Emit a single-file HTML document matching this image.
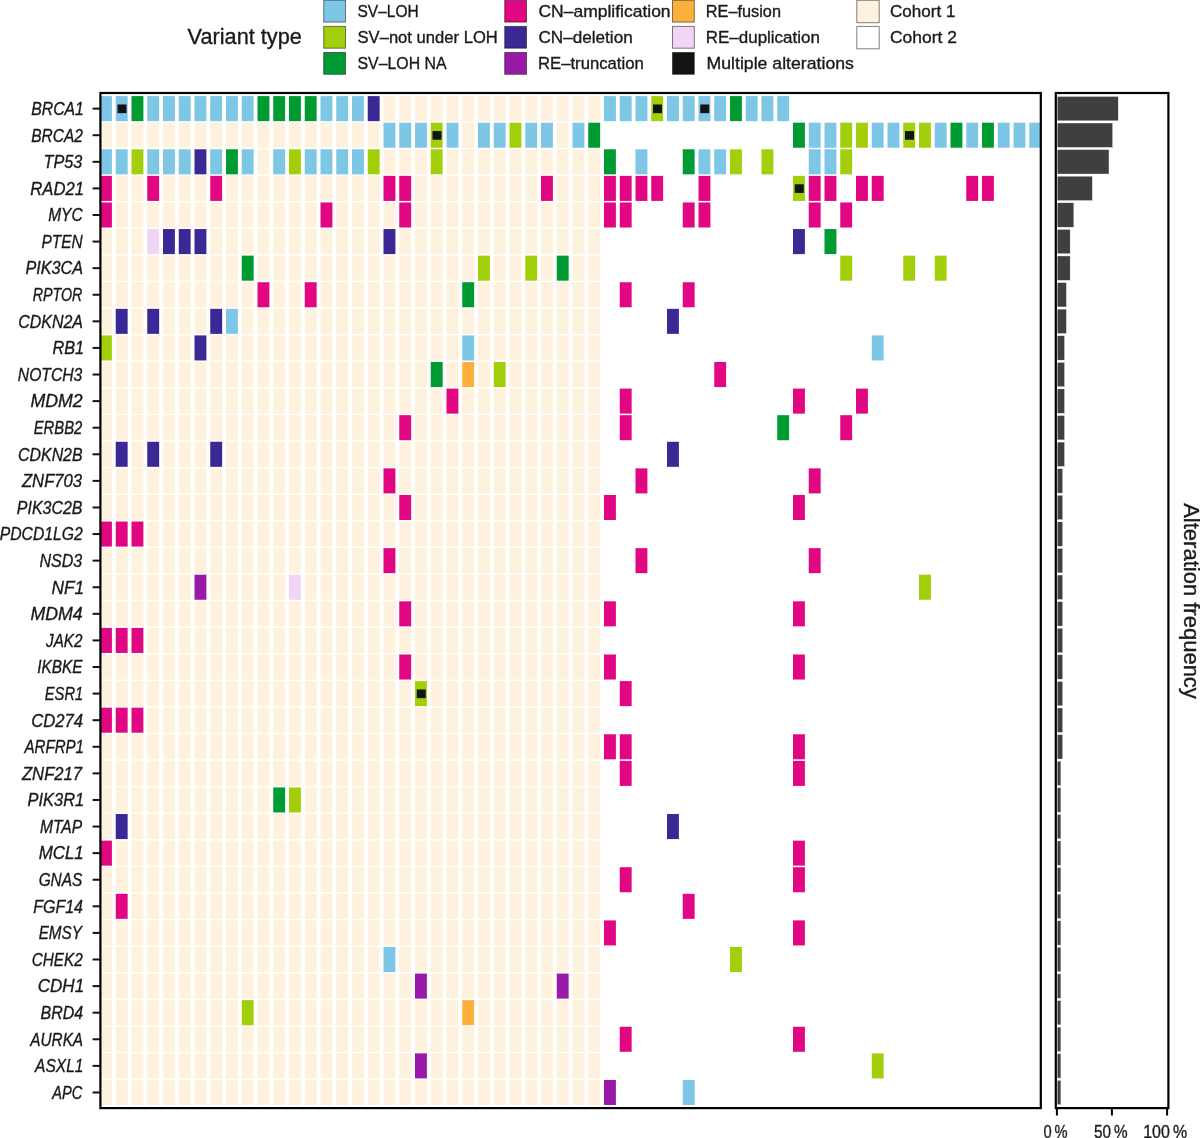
<!DOCTYPE html>
<html><head><meta charset="utf-8">
<style>
html,body{margin:0;padding:0;background:#fff;}
body{width:1200px;height:1138px;overflow:hidden;position:relative;}
svg{position:absolute;left:0;top:0;display:block;will-change:transform;}
text{font-family:"Liberation Sans",sans-serif;fill:#1a1a1a;stroke:#1a1a1a;stroke-width:0.35px;}
.gl{font-style:italic;font-size:18px;}
.lt{font-size:17px;}
.vt{font-size:22px;}
.ax{font-size:18.5px;}
.af{font-size:22px;}
.lb{stroke:rgba(0,0,0,0.5);stroke-width:1;}
.tk line{stroke:#111;stroke-width:2;}
</style></head>
<body>
<svg width="1200" height="1138" viewBox="0 0 1200 1138">
<g id="grid">
<rect x="100" y="96.1" width="11.9" height="25.05" fill="#7dc6e6"/>
<rect x="115.75" y="96.1" width="11.9" height="25.05" fill="#7dc6e6"/>
<rect x="117.5" y="104.47" width="9" height="8.7" fill="#131313"/>
<rect x="131.5" y="96.1" width="11.9" height="25.05" fill="#009a33"/>
<rect x="147.25" y="96.1" width="11.9" height="25.05" fill="#7dc6e6"/>
<rect x="163" y="96.1" width="11.9" height="25.05" fill="#7dc6e6"/>
<rect x="178.75" y="96.1" width="11.9" height="25.05" fill="#7dc6e6"/>
<rect x="194.5" y="96.1" width="11.9" height="25.05" fill="#7dc6e6"/>
<rect x="210.25" y="96.1" width="11.9" height="25.05" fill="#7dc6e6"/>
<rect x="226" y="96.1" width="11.9" height="25.05" fill="#7dc6e6"/>
<rect x="241.75" y="96.1" width="11.9" height="25.05" fill="#7dc6e6"/>
<rect x="257.5" y="96.1" width="11.9" height="25.05" fill="#009a33"/>
<rect x="273.25" y="96.1" width="11.9" height="25.05" fill="#009a33"/>
<rect x="289" y="96.1" width="11.9" height="25.05" fill="#009a33"/>
<rect x="304.75" y="96.1" width="11.9" height="25.05" fill="#009a33"/>
<rect x="320.5" y="96.1" width="11.9" height="25.05" fill="#7dc6e6"/>
<rect x="336.25" y="96.1" width="11.9" height="25.05" fill="#7dc6e6"/>
<rect x="352" y="96.1" width="11.9" height="25.05" fill="#7dc6e6"/>
<rect x="367.75" y="96.1" width="11.9" height="25.05" fill="#3b2895"/>
<rect x="383.5" y="96.1" width="11.9" height="25.05" fill="#fef1de"/>
<rect x="399.25" y="96.1" width="11.9" height="25.05" fill="#fef1de"/>
<rect x="415" y="96.1" width="11.9" height="25.05" fill="#fef1de"/>
<rect x="430.75" y="96.1" width="11.9" height="25.05" fill="#fef1de"/>
<rect x="446.5" y="96.1" width="11.9" height="25.05" fill="#fef1de"/>
<rect x="462.25" y="96.1" width="11.9" height="25.05" fill="#fef1de"/>
<rect x="478" y="96.1" width="11.9" height="25.05" fill="#fef1de"/>
<rect x="493.75" y="96.1" width="11.9" height="25.05" fill="#fef1de"/>
<rect x="509.5" y="96.1" width="11.9" height="25.05" fill="#fef1de"/>
<rect x="525.25" y="96.1" width="11.9" height="25.05" fill="#fef1de"/>
<rect x="541" y="96.1" width="11.9" height="25.05" fill="#fef1de"/>
<rect x="556.75" y="96.1" width="11.9" height="25.05" fill="#fef1de"/>
<rect x="572.5" y="96.1" width="11.9" height="25.05" fill="#fef1de"/>
<rect x="588.25" y="96.1" width="11.9" height="25.05" fill="#fef1de"/>
<rect x="604" y="96.1" width="11.9" height="25.05" fill="#7dc6e6"/>
<rect x="619.75" y="96.1" width="11.9" height="25.05" fill="#7dc6e6"/>
<rect x="635.5" y="96.1" width="11.9" height="25.05" fill="#7dc6e6"/>
<rect x="651.25" y="96.1" width="11.9" height="25.05" fill="#a3cf0a"/>
<rect x="653" y="104.47" width="9" height="8.7" fill="#131313"/>
<rect x="667" y="96.1" width="11.9" height="25.05" fill="#7dc6e6"/>
<rect x="682.75" y="96.1" width="11.9" height="25.05" fill="#7dc6e6"/>
<rect x="698.5" y="96.1" width="11.9" height="25.05" fill="#7dc6e6"/>
<rect x="700.25" y="104.47" width="9" height="8.7" fill="#131313"/>
<rect x="714.25" y="96.1" width="11.9" height="25.05" fill="#7dc6e6"/>
<rect x="730" y="96.1" width="11.9" height="25.05" fill="#009a33"/>
<rect x="745.75" y="96.1" width="11.9" height="25.05" fill="#7dc6e6"/>
<rect x="761.5" y="96.1" width="11.9" height="25.05" fill="#7dc6e6"/>
<rect x="777.25" y="96.1" width="11.9" height="25.05" fill="#7dc6e6"/>
<rect x="100" y="122.69" width="11.9" height="25.05" fill="#fef1de"/>
<rect x="115.75" y="122.69" width="11.9" height="25.05" fill="#fef1de"/>
<rect x="131.5" y="122.69" width="11.9" height="25.05" fill="#fef1de"/>
<rect x="147.25" y="122.69" width="11.9" height="25.05" fill="#fef1de"/>
<rect x="163" y="122.69" width="11.9" height="25.05" fill="#fef1de"/>
<rect x="178.75" y="122.69" width="11.9" height="25.05" fill="#fef1de"/>
<rect x="194.5" y="122.69" width="11.9" height="25.05" fill="#fef1de"/>
<rect x="210.25" y="122.69" width="11.9" height="25.05" fill="#fef1de"/>
<rect x="226" y="122.69" width="11.9" height="25.05" fill="#fef1de"/>
<rect x="241.75" y="122.69" width="11.9" height="25.05" fill="#fef1de"/>
<rect x="257.5" y="122.69" width="11.9" height="25.05" fill="#fef1de"/>
<rect x="273.25" y="122.69" width="11.9" height="25.05" fill="#fef1de"/>
<rect x="289" y="122.69" width="11.9" height="25.05" fill="#fef1de"/>
<rect x="304.75" y="122.69" width="11.9" height="25.05" fill="#fef1de"/>
<rect x="320.5" y="122.69" width="11.9" height="25.05" fill="#fef1de"/>
<rect x="336.25" y="122.69" width="11.9" height="25.05" fill="#fef1de"/>
<rect x="352" y="122.69" width="11.9" height="25.05" fill="#fef1de"/>
<rect x="367.75" y="122.69" width="11.9" height="25.05" fill="#fef1de"/>
<rect x="383.5" y="122.69" width="11.9" height="25.05" fill="#7dc6e6"/>
<rect x="399.25" y="122.69" width="11.9" height="25.05" fill="#7dc6e6"/>
<rect x="415" y="122.69" width="11.9" height="25.05" fill="#7dc6e6"/>
<rect x="430.75" y="122.69" width="11.9" height="25.05" fill="#a3cf0a"/>
<rect x="432.5" y="131.06" width="9" height="8.7" fill="#131313"/>
<rect x="446.5" y="122.69" width="11.9" height="25.05" fill="#7dc6e6"/>
<rect x="462.25" y="122.69" width="11.9" height="25.05" fill="#fef1de"/>
<rect x="478" y="122.69" width="11.9" height="25.05" fill="#7dc6e6"/>
<rect x="493.75" y="122.69" width="11.9" height="25.05" fill="#7dc6e6"/>
<rect x="509.5" y="122.69" width="11.9" height="25.05" fill="#a3cf0a"/>
<rect x="525.25" y="122.69" width="11.9" height="25.05" fill="#7dc6e6"/>
<rect x="541" y="122.69" width="11.9" height="25.05" fill="#7dc6e6"/>
<rect x="556.75" y="122.69" width="11.9" height="25.05" fill="#fef1de"/>
<rect x="572.5" y="122.69" width="11.9" height="25.05" fill="#7dc6e6"/>
<rect x="588.25" y="122.69" width="11.9" height="25.05" fill="#009a33"/>
<rect x="793" y="122.69" width="11.9" height="25.05" fill="#009a33"/>
<rect x="808.75" y="122.69" width="11.9" height="25.05" fill="#7dc6e6"/>
<rect x="824.5" y="122.69" width="11.9" height="25.05" fill="#7dc6e6"/>
<rect x="840.25" y="122.69" width="11.9" height="25.05" fill="#a3cf0a"/>
<rect x="856" y="122.69" width="11.9" height="25.05" fill="#a3cf0a"/>
<rect x="871.75" y="122.69" width="11.9" height="25.05" fill="#7dc6e6"/>
<rect x="887.5" y="122.69" width="11.9" height="25.05" fill="#7dc6e6"/>
<rect x="903.25" y="122.69" width="11.9" height="25.05" fill="#a3cf0a"/>
<rect x="905" y="131.06" width="9" height="8.7" fill="#131313"/>
<rect x="919" y="122.69" width="11.9" height="25.05" fill="#a3cf0a"/>
<rect x="934.75" y="122.69" width="11.9" height="25.05" fill="#7dc6e6"/>
<rect x="950.5" y="122.69" width="11.9" height="25.05" fill="#009a33"/>
<rect x="966.25" y="122.69" width="11.9" height="25.05" fill="#7dc6e6"/>
<rect x="982" y="122.69" width="11.9" height="25.05" fill="#009a33"/>
<rect x="997.75" y="122.69" width="11.9" height="25.05" fill="#7dc6e6"/>
<rect x="1013.5" y="122.69" width="11.9" height="25.05" fill="#7dc6e6"/>
<rect x="1029.25" y="122.69" width="11.25" height="25.05" fill="#7dc6e6"/>
<rect x="100" y="149.28" width="11.9" height="25.05" fill="#7dc6e6"/>
<rect x="115.75" y="149.28" width="11.9" height="25.05" fill="#7dc6e6"/>
<rect x="131.5" y="149.28" width="11.9" height="25.05" fill="#a3cf0a"/>
<rect x="147.25" y="149.28" width="11.9" height="25.05" fill="#7dc6e6"/>
<rect x="163" y="149.28" width="11.9" height="25.05" fill="#7dc6e6"/>
<rect x="178.75" y="149.28" width="11.9" height="25.05" fill="#7dc6e6"/>
<rect x="194.5" y="149.28" width="11.9" height="25.05" fill="#3b2895"/>
<rect x="210.25" y="149.28" width="11.9" height="25.05" fill="#7dc6e6"/>
<rect x="226" y="149.28" width="11.9" height="25.05" fill="#009a33"/>
<rect x="241.75" y="149.28" width="11.9" height="25.05" fill="#7dc6e6"/>
<rect x="257.5" y="149.28" width="11.9" height="25.05" fill="#fef1de"/>
<rect x="273.25" y="149.28" width="11.9" height="25.05" fill="#7dc6e6"/>
<rect x="289" y="149.28" width="11.9" height="25.05" fill="#a3cf0a"/>
<rect x="304.75" y="149.28" width="11.9" height="25.05" fill="#7dc6e6"/>
<rect x="320.5" y="149.28" width="11.9" height="25.05" fill="#7dc6e6"/>
<rect x="336.25" y="149.28" width="11.9" height="25.05" fill="#7dc6e6"/>
<rect x="352" y="149.28" width="11.9" height="25.05" fill="#7dc6e6"/>
<rect x="367.75" y="149.28" width="11.9" height="25.05" fill="#a3cf0a"/>
<rect x="383.5" y="149.28" width="11.9" height="25.05" fill="#fef1de"/>
<rect x="399.25" y="149.28" width="11.9" height="25.05" fill="#fef1de"/>
<rect x="415" y="149.28" width="11.9" height="25.05" fill="#fef1de"/>
<rect x="430.75" y="149.28" width="11.9" height="25.05" fill="#a3cf0a"/>
<rect x="446.5" y="149.28" width="11.9" height="25.05" fill="#fef1de"/>
<rect x="462.25" y="149.28" width="11.9" height="25.05" fill="#fef1de"/>
<rect x="478" y="149.28" width="11.9" height="25.05" fill="#fef1de"/>
<rect x="493.75" y="149.28" width="11.9" height="25.05" fill="#fef1de"/>
<rect x="509.5" y="149.28" width="11.9" height="25.05" fill="#fef1de"/>
<rect x="525.25" y="149.28" width="11.9" height="25.05" fill="#fef1de"/>
<rect x="541" y="149.28" width="11.9" height="25.05" fill="#fef1de"/>
<rect x="556.75" y="149.28" width="11.9" height="25.05" fill="#fef1de"/>
<rect x="572.5" y="149.28" width="11.9" height="25.05" fill="#fef1de"/>
<rect x="588.25" y="149.28" width="11.9" height="25.05" fill="#fef1de"/>
<rect x="604" y="149.28" width="11.9" height="25.05" fill="#009a33"/>
<rect x="635.5" y="149.28" width="11.9" height="25.05" fill="#7dc6e6"/>
<rect x="682.75" y="149.28" width="11.9" height="25.05" fill="#009a33"/>
<rect x="698.5" y="149.28" width="11.9" height="25.05" fill="#7dc6e6"/>
<rect x="714.25" y="149.28" width="11.9" height="25.05" fill="#7dc6e6"/>
<rect x="730" y="149.28" width="11.9" height="25.05" fill="#a3cf0a"/>
<rect x="761.5" y="149.28" width="11.9" height="25.05" fill="#a3cf0a"/>
<rect x="808.75" y="149.28" width="11.9" height="25.05" fill="#7dc6e6"/>
<rect x="824.5" y="149.28" width="11.9" height="25.05" fill="#7dc6e6"/>
<rect x="840.25" y="149.28" width="11.9" height="25.05" fill="#a3cf0a"/>
<rect x="100" y="175.87" width="11.9" height="25.05" fill="#e10682"/>
<rect x="115.75" y="175.87" width="11.9" height="25.05" fill="#fef1de"/>
<rect x="131.5" y="175.87" width="11.9" height="25.05" fill="#fef1de"/>
<rect x="147.25" y="175.87" width="11.9" height="25.05" fill="#e10682"/>
<rect x="163" y="175.87" width="11.9" height="25.05" fill="#fef1de"/>
<rect x="178.75" y="175.87" width="11.9" height="25.05" fill="#fef1de"/>
<rect x="194.5" y="175.87" width="11.9" height="25.05" fill="#fef1de"/>
<rect x="210.25" y="175.87" width="11.9" height="25.05" fill="#e10682"/>
<rect x="226" y="175.87" width="11.9" height="25.05" fill="#fef1de"/>
<rect x="241.75" y="175.87" width="11.9" height="25.05" fill="#fef1de"/>
<rect x="257.5" y="175.87" width="11.9" height="25.05" fill="#fef1de"/>
<rect x="273.25" y="175.87" width="11.9" height="25.05" fill="#fef1de"/>
<rect x="289" y="175.87" width="11.9" height="25.05" fill="#fef1de"/>
<rect x="304.75" y="175.87" width="11.9" height="25.05" fill="#fef1de"/>
<rect x="320.5" y="175.87" width="11.9" height="25.05" fill="#fef1de"/>
<rect x="336.25" y="175.87" width="11.9" height="25.05" fill="#fef1de"/>
<rect x="352" y="175.87" width="11.9" height="25.05" fill="#fef1de"/>
<rect x="367.75" y="175.87" width="11.9" height="25.05" fill="#fef1de"/>
<rect x="383.5" y="175.87" width="11.9" height="25.05" fill="#e10682"/>
<rect x="399.25" y="175.87" width="11.9" height="25.05" fill="#e10682"/>
<rect x="415" y="175.87" width="11.9" height="25.05" fill="#fef1de"/>
<rect x="430.75" y="175.87" width="11.9" height="25.05" fill="#fef1de"/>
<rect x="446.5" y="175.87" width="11.9" height="25.05" fill="#fef1de"/>
<rect x="462.25" y="175.87" width="11.9" height="25.05" fill="#fef1de"/>
<rect x="478" y="175.87" width="11.9" height="25.05" fill="#fef1de"/>
<rect x="493.75" y="175.87" width="11.9" height="25.05" fill="#fef1de"/>
<rect x="509.5" y="175.87" width="11.9" height="25.05" fill="#fef1de"/>
<rect x="525.25" y="175.87" width="11.9" height="25.05" fill="#fef1de"/>
<rect x="541" y="175.87" width="11.9" height="25.05" fill="#e10682"/>
<rect x="556.75" y="175.87" width="11.9" height="25.05" fill="#fef1de"/>
<rect x="572.5" y="175.87" width="11.9" height="25.05" fill="#fef1de"/>
<rect x="588.25" y="175.87" width="11.9" height="25.05" fill="#fef1de"/>
<rect x="604" y="175.87" width="11.9" height="25.05" fill="#e10682"/>
<rect x="619.75" y="175.87" width="11.9" height="25.05" fill="#e10682"/>
<rect x="635.5" y="175.87" width="11.9" height="25.05" fill="#e10682"/>
<rect x="651.25" y="175.87" width="11.9" height="25.05" fill="#e10682"/>
<rect x="698.5" y="175.87" width="11.9" height="25.05" fill="#e10682"/>
<rect x="793" y="175.87" width="11.9" height="25.05" fill="#a3cf0a"/>
<rect x="794.75" y="184.25" width="9" height="8.7" fill="#131313"/>
<rect x="808.75" y="175.87" width="11.9" height="25.05" fill="#e10682"/>
<rect x="824.5" y="175.87" width="11.9" height="25.05" fill="#e10682"/>
<rect x="856" y="175.87" width="11.9" height="25.05" fill="#e10682"/>
<rect x="871.75" y="175.87" width="11.9" height="25.05" fill="#e10682"/>
<rect x="966.25" y="175.87" width="11.9" height="25.05" fill="#e10682"/>
<rect x="982" y="175.87" width="11.9" height="25.05" fill="#e10682"/>
<rect x="100" y="202.46" width="11.9" height="25.05" fill="#e10682"/>
<rect x="115.75" y="202.46" width="11.9" height="25.05" fill="#fef1de"/>
<rect x="131.5" y="202.46" width="11.9" height="25.05" fill="#fef1de"/>
<rect x="147.25" y="202.46" width="11.9" height="25.05" fill="#fef1de"/>
<rect x="163" y="202.46" width="11.9" height="25.05" fill="#fef1de"/>
<rect x="178.75" y="202.46" width="11.9" height="25.05" fill="#fef1de"/>
<rect x="194.5" y="202.46" width="11.9" height="25.05" fill="#fef1de"/>
<rect x="210.25" y="202.46" width="11.9" height="25.05" fill="#fef1de"/>
<rect x="226" y="202.46" width="11.9" height="25.05" fill="#fef1de"/>
<rect x="241.75" y="202.46" width="11.9" height="25.05" fill="#fef1de"/>
<rect x="257.5" y="202.46" width="11.9" height="25.05" fill="#fef1de"/>
<rect x="273.25" y="202.46" width="11.9" height="25.05" fill="#fef1de"/>
<rect x="289" y="202.46" width="11.9" height="25.05" fill="#fef1de"/>
<rect x="304.75" y="202.46" width="11.9" height="25.05" fill="#fef1de"/>
<rect x="320.5" y="202.46" width="11.9" height="25.05" fill="#e10682"/>
<rect x="336.25" y="202.46" width="11.9" height="25.05" fill="#fef1de"/>
<rect x="352" y="202.46" width="11.9" height="25.05" fill="#fef1de"/>
<rect x="367.75" y="202.46" width="11.9" height="25.05" fill="#fef1de"/>
<rect x="383.5" y="202.46" width="11.9" height="25.05" fill="#fef1de"/>
<rect x="399.25" y="202.46" width="11.9" height="25.05" fill="#e10682"/>
<rect x="415" y="202.46" width="11.9" height="25.05" fill="#fef1de"/>
<rect x="430.75" y="202.46" width="11.9" height="25.05" fill="#fef1de"/>
<rect x="446.5" y="202.46" width="11.9" height="25.05" fill="#fef1de"/>
<rect x="462.25" y="202.46" width="11.9" height="25.05" fill="#fef1de"/>
<rect x="478" y="202.46" width="11.9" height="25.05" fill="#fef1de"/>
<rect x="493.75" y="202.46" width="11.9" height="25.05" fill="#fef1de"/>
<rect x="509.5" y="202.46" width="11.9" height="25.05" fill="#fef1de"/>
<rect x="525.25" y="202.46" width="11.9" height="25.05" fill="#fef1de"/>
<rect x="541" y="202.46" width="11.9" height="25.05" fill="#fef1de"/>
<rect x="556.75" y="202.46" width="11.9" height="25.05" fill="#fef1de"/>
<rect x="572.5" y="202.46" width="11.9" height="25.05" fill="#fef1de"/>
<rect x="588.25" y="202.46" width="11.9" height="25.05" fill="#fef1de"/>
<rect x="604" y="202.46" width="11.9" height="25.05" fill="#e10682"/>
<rect x="619.75" y="202.46" width="11.9" height="25.05" fill="#e10682"/>
<rect x="682.75" y="202.46" width="11.9" height="25.05" fill="#e10682"/>
<rect x="698.5" y="202.46" width="11.9" height="25.05" fill="#e10682"/>
<rect x="808.75" y="202.46" width="11.9" height="25.05" fill="#e10682"/>
<rect x="840.25" y="202.46" width="11.9" height="25.05" fill="#e10682"/>
<rect x="100" y="229.05" width="11.9" height="25.05" fill="#fef1de"/>
<rect x="115.75" y="229.05" width="11.9" height="25.05" fill="#fef1de"/>
<rect x="131.5" y="229.05" width="11.9" height="25.05" fill="#fef1de"/>
<rect x="147.25" y="229.05" width="11.9" height="25.05" fill="#f0d6f4"/>
<rect x="163" y="229.05" width="11.9" height="25.05" fill="#3b2895"/>
<rect x="178.75" y="229.05" width="11.9" height="25.05" fill="#3b2895"/>
<rect x="194.5" y="229.05" width="11.9" height="25.05" fill="#3b2895"/>
<rect x="210.25" y="229.05" width="11.9" height="25.05" fill="#fef1de"/>
<rect x="226" y="229.05" width="11.9" height="25.05" fill="#fef1de"/>
<rect x="241.75" y="229.05" width="11.9" height="25.05" fill="#fef1de"/>
<rect x="257.5" y="229.05" width="11.9" height="25.05" fill="#fef1de"/>
<rect x="273.25" y="229.05" width="11.9" height="25.05" fill="#fef1de"/>
<rect x="289" y="229.05" width="11.9" height="25.05" fill="#fef1de"/>
<rect x="304.75" y="229.05" width="11.9" height="25.05" fill="#fef1de"/>
<rect x="320.5" y="229.05" width="11.9" height="25.05" fill="#fef1de"/>
<rect x="336.25" y="229.05" width="11.9" height="25.05" fill="#fef1de"/>
<rect x="352" y="229.05" width="11.9" height="25.05" fill="#fef1de"/>
<rect x="367.75" y="229.05" width="11.9" height="25.05" fill="#fef1de"/>
<rect x="383.5" y="229.05" width="11.9" height="25.05" fill="#3b2895"/>
<rect x="399.25" y="229.05" width="11.9" height="25.05" fill="#fef1de"/>
<rect x="415" y="229.05" width="11.9" height="25.05" fill="#fef1de"/>
<rect x="430.75" y="229.05" width="11.9" height="25.05" fill="#fef1de"/>
<rect x="446.5" y="229.05" width="11.9" height="25.05" fill="#fef1de"/>
<rect x="462.25" y="229.05" width="11.9" height="25.05" fill="#fef1de"/>
<rect x="478" y="229.05" width="11.9" height="25.05" fill="#fef1de"/>
<rect x="493.75" y="229.05" width="11.9" height="25.05" fill="#fef1de"/>
<rect x="509.5" y="229.05" width="11.9" height="25.05" fill="#fef1de"/>
<rect x="525.25" y="229.05" width="11.9" height="25.05" fill="#fef1de"/>
<rect x="541" y="229.05" width="11.9" height="25.05" fill="#fef1de"/>
<rect x="556.75" y="229.05" width="11.9" height="25.05" fill="#fef1de"/>
<rect x="572.5" y="229.05" width="11.9" height="25.05" fill="#fef1de"/>
<rect x="588.25" y="229.05" width="11.9" height="25.05" fill="#fef1de"/>
<rect x="793" y="229.05" width="11.9" height="25.05" fill="#3b2895"/>
<rect x="824.5" y="229.05" width="11.9" height="25.05" fill="#009a33"/>
<rect x="100" y="255.64" width="11.9" height="25.05" fill="#fef1de"/>
<rect x="115.75" y="255.64" width="11.9" height="25.05" fill="#fef1de"/>
<rect x="131.5" y="255.64" width="11.9" height="25.05" fill="#fef1de"/>
<rect x="147.25" y="255.64" width="11.9" height="25.05" fill="#fef1de"/>
<rect x="163" y="255.64" width="11.9" height="25.05" fill="#fef1de"/>
<rect x="178.75" y="255.64" width="11.9" height="25.05" fill="#fef1de"/>
<rect x="194.5" y="255.64" width="11.9" height="25.05" fill="#fef1de"/>
<rect x="210.25" y="255.64" width="11.9" height="25.05" fill="#fef1de"/>
<rect x="226" y="255.64" width="11.9" height="25.05" fill="#fef1de"/>
<rect x="241.75" y="255.64" width="11.9" height="25.05" fill="#009a33"/>
<rect x="257.5" y="255.64" width="11.9" height="25.05" fill="#fef1de"/>
<rect x="273.25" y="255.64" width="11.9" height="25.05" fill="#fef1de"/>
<rect x="289" y="255.64" width="11.9" height="25.05" fill="#fef1de"/>
<rect x="304.75" y="255.64" width="11.9" height="25.05" fill="#fef1de"/>
<rect x="320.5" y="255.64" width="11.9" height="25.05" fill="#fef1de"/>
<rect x="336.25" y="255.64" width="11.9" height="25.05" fill="#fef1de"/>
<rect x="352" y="255.64" width="11.9" height="25.05" fill="#fef1de"/>
<rect x="367.75" y="255.64" width="11.9" height="25.05" fill="#fef1de"/>
<rect x="383.5" y="255.64" width="11.9" height="25.05" fill="#fef1de"/>
<rect x="399.25" y="255.64" width="11.9" height="25.05" fill="#fef1de"/>
<rect x="415" y="255.64" width="11.9" height="25.05" fill="#fef1de"/>
<rect x="430.75" y="255.64" width="11.9" height="25.05" fill="#fef1de"/>
<rect x="446.5" y="255.64" width="11.9" height="25.05" fill="#fef1de"/>
<rect x="462.25" y="255.64" width="11.9" height="25.05" fill="#fef1de"/>
<rect x="478" y="255.64" width="11.9" height="25.05" fill="#a3cf0a"/>
<rect x="493.75" y="255.64" width="11.9" height="25.05" fill="#fef1de"/>
<rect x="509.5" y="255.64" width="11.9" height="25.05" fill="#fef1de"/>
<rect x="525.25" y="255.64" width="11.9" height="25.05" fill="#a3cf0a"/>
<rect x="541" y="255.64" width="11.9" height="25.05" fill="#fef1de"/>
<rect x="556.75" y="255.64" width="11.9" height="25.05" fill="#009a33"/>
<rect x="572.5" y="255.64" width="11.9" height="25.05" fill="#fef1de"/>
<rect x="588.25" y="255.64" width="11.9" height="25.05" fill="#fef1de"/>
<rect x="840.25" y="255.64" width="11.9" height="25.05" fill="#a3cf0a"/>
<rect x="903.25" y="255.64" width="11.9" height="25.05" fill="#a3cf0a"/>
<rect x="934.75" y="255.64" width="11.9" height="25.05" fill="#a3cf0a"/>
<rect x="100" y="282.23" width="11.9" height="25.05" fill="#fef1de"/>
<rect x="115.75" y="282.23" width="11.9" height="25.05" fill="#fef1de"/>
<rect x="131.5" y="282.23" width="11.9" height="25.05" fill="#fef1de"/>
<rect x="147.25" y="282.23" width="11.9" height="25.05" fill="#fef1de"/>
<rect x="163" y="282.23" width="11.9" height="25.05" fill="#fef1de"/>
<rect x="178.75" y="282.23" width="11.9" height="25.05" fill="#fef1de"/>
<rect x="194.5" y="282.23" width="11.9" height="25.05" fill="#fef1de"/>
<rect x="210.25" y="282.23" width="11.9" height="25.05" fill="#fef1de"/>
<rect x="226" y="282.23" width="11.9" height="25.05" fill="#fef1de"/>
<rect x="241.75" y="282.23" width="11.9" height="25.05" fill="#fef1de"/>
<rect x="257.5" y="282.23" width="11.9" height="25.05" fill="#e10682"/>
<rect x="273.25" y="282.23" width="11.9" height="25.05" fill="#fef1de"/>
<rect x="289" y="282.23" width="11.9" height="25.05" fill="#fef1de"/>
<rect x="304.75" y="282.23" width="11.9" height="25.05" fill="#e10682"/>
<rect x="320.5" y="282.23" width="11.9" height="25.05" fill="#fef1de"/>
<rect x="336.25" y="282.23" width="11.9" height="25.05" fill="#fef1de"/>
<rect x="352" y="282.23" width="11.9" height="25.05" fill="#fef1de"/>
<rect x="367.75" y="282.23" width="11.9" height="25.05" fill="#fef1de"/>
<rect x="383.5" y="282.23" width="11.9" height="25.05" fill="#fef1de"/>
<rect x="399.25" y="282.23" width="11.9" height="25.05" fill="#fef1de"/>
<rect x="415" y="282.23" width="11.9" height="25.05" fill="#fef1de"/>
<rect x="430.75" y="282.23" width="11.9" height="25.05" fill="#fef1de"/>
<rect x="446.5" y="282.23" width="11.9" height="25.05" fill="#fef1de"/>
<rect x="462.25" y="282.23" width="11.9" height="25.05" fill="#009a33"/>
<rect x="478" y="282.23" width="11.9" height="25.05" fill="#fef1de"/>
<rect x="493.75" y="282.23" width="11.9" height="25.05" fill="#fef1de"/>
<rect x="509.5" y="282.23" width="11.9" height="25.05" fill="#fef1de"/>
<rect x="525.25" y="282.23" width="11.9" height="25.05" fill="#fef1de"/>
<rect x="541" y="282.23" width="11.9" height="25.05" fill="#fef1de"/>
<rect x="556.75" y="282.23" width="11.9" height="25.05" fill="#fef1de"/>
<rect x="572.5" y="282.23" width="11.9" height="25.05" fill="#fef1de"/>
<rect x="588.25" y="282.23" width="11.9" height="25.05" fill="#fef1de"/>
<rect x="619.75" y="282.23" width="11.9" height="25.05" fill="#e10682"/>
<rect x="682.75" y="282.23" width="11.9" height="25.05" fill="#e10682"/>
<rect x="100" y="308.82" width="11.9" height="25.05" fill="#fef1de"/>
<rect x="115.75" y="308.82" width="11.9" height="25.05" fill="#3b2895"/>
<rect x="131.5" y="308.82" width="11.9" height="25.05" fill="#fef1de"/>
<rect x="147.25" y="308.82" width="11.9" height="25.05" fill="#3b2895"/>
<rect x="163" y="308.82" width="11.9" height="25.05" fill="#fef1de"/>
<rect x="178.75" y="308.82" width="11.9" height="25.05" fill="#fef1de"/>
<rect x="194.5" y="308.82" width="11.9" height="25.05" fill="#fef1de"/>
<rect x="210.25" y="308.82" width="11.9" height="25.05" fill="#3b2895"/>
<rect x="226" y="308.82" width="11.9" height="25.05" fill="#7dc6e6"/>
<rect x="241.75" y="308.82" width="11.9" height="25.05" fill="#fef1de"/>
<rect x="257.5" y="308.82" width="11.9" height="25.05" fill="#fef1de"/>
<rect x="273.25" y="308.82" width="11.9" height="25.05" fill="#fef1de"/>
<rect x="289" y="308.82" width="11.9" height="25.05" fill="#fef1de"/>
<rect x="304.75" y="308.82" width="11.9" height="25.05" fill="#fef1de"/>
<rect x="320.5" y="308.82" width="11.9" height="25.05" fill="#fef1de"/>
<rect x="336.25" y="308.82" width="11.9" height="25.05" fill="#fef1de"/>
<rect x="352" y="308.82" width="11.9" height="25.05" fill="#fef1de"/>
<rect x="367.75" y="308.82" width="11.9" height="25.05" fill="#fef1de"/>
<rect x="383.5" y="308.82" width="11.9" height="25.05" fill="#fef1de"/>
<rect x="399.25" y="308.82" width="11.9" height="25.05" fill="#fef1de"/>
<rect x="415" y="308.82" width="11.9" height="25.05" fill="#fef1de"/>
<rect x="430.75" y="308.82" width="11.9" height="25.05" fill="#fef1de"/>
<rect x="446.5" y="308.82" width="11.9" height="25.05" fill="#fef1de"/>
<rect x="462.25" y="308.82" width="11.9" height="25.05" fill="#fef1de"/>
<rect x="478" y="308.82" width="11.9" height="25.05" fill="#fef1de"/>
<rect x="493.75" y="308.82" width="11.9" height="25.05" fill="#fef1de"/>
<rect x="509.5" y="308.82" width="11.9" height="25.05" fill="#fef1de"/>
<rect x="525.25" y="308.82" width="11.9" height="25.05" fill="#fef1de"/>
<rect x="541" y="308.82" width="11.9" height="25.05" fill="#fef1de"/>
<rect x="556.75" y="308.82" width="11.9" height="25.05" fill="#fef1de"/>
<rect x="572.5" y="308.82" width="11.9" height="25.05" fill="#fef1de"/>
<rect x="588.25" y="308.82" width="11.9" height="25.05" fill="#fef1de"/>
<rect x="667" y="308.82" width="11.9" height="25.05" fill="#3b2895"/>
<rect x="100" y="335.41" width="11.9" height="25.05" fill="#a3cf0a"/>
<rect x="115.75" y="335.41" width="11.9" height="25.05" fill="#fef1de"/>
<rect x="131.5" y="335.41" width="11.9" height="25.05" fill="#fef1de"/>
<rect x="147.25" y="335.41" width="11.9" height="25.05" fill="#fef1de"/>
<rect x="163" y="335.41" width="11.9" height="25.05" fill="#fef1de"/>
<rect x="178.75" y="335.41" width="11.9" height="25.05" fill="#fef1de"/>
<rect x="194.5" y="335.41" width="11.9" height="25.05" fill="#3b2895"/>
<rect x="210.25" y="335.41" width="11.9" height="25.05" fill="#fef1de"/>
<rect x="226" y="335.41" width="11.9" height="25.05" fill="#fef1de"/>
<rect x="241.75" y="335.41" width="11.9" height="25.05" fill="#fef1de"/>
<rect x="257.5" y="335.41" width="11.9" height="25.05" fill="#fef1de"/>
<rect x="273.25" y="335.41" width="11.9" height="25.05" fill="#fef1de"/>
<rect x="289" y="335.41" width="11.9" height="25.05" fill="#fef1de"/>
<rect x="304.75" y="335.41" width="11.9" height="25.05" fill="#fef1de"/>
<rect x="320.5" y="335.41" width="11.9" height="25.05" fill="#fef1de"/>
<rect x="336.25" y="335.41" width="11.9" height="25.05" fill="#fef1de"/>
<rect x="352" y="335.41" width="11.9" height="25.05" fill="#fef1de"/>
<rect x="367.75" y="335.41" width="11.9" height="25.05" fill="#fef1de"/>
<rect x="383.5" y="335.41" width="11.9" height="25.05" fill="#fef1de"/>
<rect x="399.25" y="335.41" width="11.9" height="25.05" fill="#fef1de"/>
<rect x="415" y="335.41" width="11.9" height="25.05" fill="#fef1de"/>
<rect x="430.75" y="335.41" width="11.9" height="25.05" fill="#fef1de"/>
<rect x="446.5" y="335.41" width="11.9" height="25.05" fill="#fef1de"/>
<rect x="462.25" y="335.41" width="11.9" height="25.05" fill="#7dc6e6"/>
<rect x="478" y="335.41" width="11.9" height="25.05" fill="#fef1de"/>
<rect x="493.75" y="335.41" width="11.9" height="25.05" fill="#fef1de"/>
<rect x="509.5" y="335.41" width="11.9" height="25.05" fill="#fef1de"/>
<rect x="525.25" y="335.41" width="11.9" height="25.05" fill="#fef1de"/>
<rect x="541" y="335.41" width="11.9" height="25.05" fill="#fef1de"/>
<rect x="556.75" y="335.41" width="11.9" height="25.05" fill="#fef1de"/>
<rect x="572.5" y="335.41" width="11.9" height="25.05" fill="#fef1de"/>
<rect x="588.25" y="335.41" width="11.9" height="25.05" fill="#fef1de"/>
<rect x="871.75" y="335.41" width="11.9" height="25.05" fill="#7dc6e6"/>
<rect x="100" y="362" width="11.9" height="25.05" fill="#fef1de"/>
<rect x="115.75" y="362" width="11.9" height="25.05" fill="#fef1de"/>
<rect x="131.5" y="362" width="11.9" height="25.05" fill="#fef1de"/>
<rect x="147.25" y="362" width="11.9" height="25.05" fill="#fef1de"/>
<rect x="163" y="362" width="11.9" height="25.05" fill="#fef1de"/>
<rect x="178.75" y="362" width="11.9" height="25.05" fill="#fef1de"/>
<rect x="194.5" y="362" width="11.9" height="25.05" fill="#fef1de"/>
<rect x="210.25" y="362" width="11.9" height="25.05" fill="#fef1de"/>
<rect x="226" y="362" width="11.9" height="25.05" fill="#fef1de"/>
<rect x="241.75" y="362" width="11.9" height="25.05" fill="#fef1de"/>
<rect x="257.5" y="362" width="11.9" height="25.05" fill="#fef1de"/>
<rect x="273.25" y="362" width="11.9" height="25.05" fill="#fef1de"/>
<rect x="289" y="362" width="11.9" height="25.05" fill="#fef1de"/>
<rect x="304.75" y="362" width="11.9" height="25.05" fill="#fef1de"/>
<rect x="320.5" y="362" width="11.9" height="25.05" fill="#fef1de"/>
<rect x="336.25" y="362" width="11.9" height="25.05" fill="#fef1de"/>
<rect x="352" y="362" width="11.9" height="25.05" fill="#fef1de"/>
<rect x="367.75" y="362" width="11.9" height="25.05" fill="#fef1de"/>
<rect x="383.5" y="362" width="11.9" height="25.05" fill="#fef1de"/>
<rect x="399.25" y="362" width="11.9" height="25.05" fill="#fef1de"/>
<rect x="415" y="362" width="11.9" height="25.05" fill="#fef1de"/>
<rect x="430.75" y="362" width="11.9" height="25.05" fill="#009a33"/>
<rect x="446.5" y="362" width="11.9" height="25.05" fill="#fef1de"/>
<rect x="462.25" y="362" width="11.9" height="25.05" fill="#fcb03c"/>
<rect x="478" y="362" width="11.9" height="25.05" fill="#fef1de"/>
<rect x="493.75" y="362" width="11.9" height="25.05" fill="#a3cf0a"/>
<rect x="509.5" y="362" width="11.9" height="25.05" fill="#fef1de"/>
<rect x="525.25" y="362" width="11.9" height="25.05" fill="#fef1de"/>
<rect x="541" y="362" width="11.9" height="25.05" fill="#fef1de"/>
<rect x="556.75" y="362" width="11.9" height="25.05" fill="#fef1de"/>
<rect x="572.5" y="362" width="11.9" height="25.05" fill="#fef1de"/>
<rect x="588.25" y="362" width="11.9" height="25.05" fill="#fef1de"/>
<rect x="714.25" y="362" width="11.9" height="25.05" fill="#e10682"/>
<rect x="100" y="388.59" width="11.9" height="25.05" fill="#fef1de"/>
<rect x="115.75" y="388.59" width="11.9" height="25.05" fill="#fef1de"/>
<rect x="131.5" y="388.59" width="11.9" height="25.05" fill="#fef1de"/>
<rect x="147.25" y="388.59" width="11.9" height="25.05" fill="#fef1de"/>
<rect x="163" y="388.59" width="11.9" height="25.05" fill="#fef1de"/>
<rect x="178.75" y="388.59" width="11.9" height="25.05" fill="#fef1de"/>
<rect x="194.5" y="388.59" width="11.9" height="25.05" fill="#fef1de"/>
<rect x="210.25" y="388.59" width="11.9" height="25.05" fill="#fef1de"/>
<rect x="226" y="388.59" width="11.9" height="25.05" fill="#fef1de"/>
<rect x="241.75" y="388.59" width="11.9" height="25.05" fill="#fef1de"/>
<rect x="257.5" y="388.59" width="11.9" height="25.05" fill="#fef1de"/>
<rect x="273.25" y="388.59" width="11.9" height="25.05" fill="#fef1de"/>
<rect x="289" y="388.59" width="11.9" height="25.05" fill="#fef1de"/>
<rect x="304.75" y="388.59" width="11.9" height="25.05" fill="#fef1de"/>
<rect x="320.5" y="388.59" width="11.9" height="25.05" fill="#fef1de"/>
<rect x="336.25" y="388.59" width="11.9" height="25.05" fill="#fef1de"/>
<rect x="352" y="388.59" width="11.9" height="25.05" fill="#fef1de"/>
<rect x="367.75" y="388.59" width="11.9" height="25.05" fill="#fef1de"/>
<rect x="383.5" y="388.59" width="11.9" height="25.05" fill="#fef1de"/>
<rect x="399.25" y="388.59" width="11.9" height="25.05" fill="#fef1de"/>
<rect x="415" y="388.59" width="11.9" height="25.05" fill="#fef1de"/>
<rect x="430.75" y="388.59" width="11.9" height="25.05" fill="#fef1de"/>
<rect x="446.5" y="388.59" width="11.9" height="25.05" fill="#e10682"/>
<rect x="462.25" y="388.59" width="11.9" height="25.05" fill="#fef1de"/>
<rect x="478" y="388.59" width="11.9" height="25.05" fill="#fef1de"/>
<rect x="493.75" y="388.59" width="11.9" height="25.05" fill="#fef1de"/>
<rect x="509.5" y="388.59" width="11.9" height="25.05" fill="#fef1de"/>
<rect x="525.25" y="388.59" width="11.9" height="25.05" fill="#fef1de"/>
<rect x="541" y="388.59" width="11.9" height="25.05" fill="#fef1de"/>
<rect x="556.75" y="388.59" width="11.9" height="25.05" fill="#fef1de"/>
<rect x="572.5" y="388.59" width="11.9" height="25.05" fill="#fef1de"/>
<rect x="588.25" y="388.59" width="11.9" height="25.05" fill="#fef1de"/>
<rect x="619.75" y="388.59" width="11.9" height="25.05" fill="#e10682"/>
<rect x="793" y="388.59" width="11.9" height="25.05" fill="#e10682"/>
<rect x="856" y="388.59" width="11.9" height="25.05" fill="#e10682"/>
<rect x="100" y="415.18" width="11.9" height="25.05" fill="#fef1de"/>
<rect x="115.75" y="415.18" width="11.9" height="25.05" fill="#fef1de"/>
<rect x="131.5" y="415.18" width="11.9" height="25.05" fill="#fef1de"/>
<rect x="147.25" y="415.18" width="11.9" height="25.05" fill="#fef1de"/>
<rect x="163" y="415.18" width="11.9" height="25.05" fill="#fef1de"/>
<rect x="178.75" y="415.18" width="11.9" height="25.05" fill="#fef1de"/>
<rect x="194.5" y="415.18" width="11.9" height="25.05" fill="#fef1de"/>
<rect x="210.25" y="415.18" width="11.9" height="25.05" fill="#fef1de"/>
<rect x="226" y="415.18" width="11.9" height="25.05" fill="#fef1de"/>
<rect x="241.75" y="415.18" width="11.9" height="25.05" fill="#fef1de"/>
<rect x="257.5" y="415.18" width="11.9" height="25.05" fill="#fef1de"/>
<rect x="273.25" y="415.18" width="11.9" height="25.05" fill="#fef1de"/>
<rect x="289" y="415.18" width="11.9" height="25.05" fill="#fef1de"/>
<rect x="304.75" y="415.18" width="11.9" height="25.05" fill="#fef1de"/>
<rect x="320.5" y="415.18" width="11.9" height="25.05" fill="#fef1de"/>
<rect x="336.25" y="415.18" width="11.9" height="25.05" fill="#fef1de"/>
<rect x="352" y="415.18" width="11.9" height="25.05" fill="#fef1de"/>
<rect x="367.75" y="415.18" width="11.9" height="25.05" fill="#fef1de"/>
<rect x="383.5" y="415.18" width="11.9" height="25.05" fill="#fef1de"/>
<rect x="399.25" y="415.18" width="11.9" height="25.05" fill="#e10682"/>
<rect x="415" y="415.18" width="11.9" height="25.05" fill="#fef1de"/>
<rect x="430.75" y="415.18" width="11.9" height="25.05" fill="#fef1de"/>
<rect x="446.5" y="415.18" width="11.9" height="25.05" fill="#fef1de"/>
<rect x="462.25" y="415.18" width="11.9" height="25.05" fill="#fef1de"/>
<rect x="478" y="415.18" width="11.9" height="25.05" fill="#fef1de"/>
<rect x="493.75" y="415.18" width="11.9" height="25.05" fill="#fef1de"/>
<rect x="509.5" y="415.18" width="11.9" height="25.05" fill="#fef1de"/>
<rect x="525.25" y="415.18" width="11.9" height="25.05" fill="#fef1de"/>
<rect x="541" y="415.18" width="11.9" height="25.05" fill="#fef1de"/>
<rect x="556.75" y="415.18" width="11.9" height="25.05" fill="#fef1de"/>
<rect x="572.5" y="415.18" width="11.9" height="25.05" fill="#fef1de"/>
<rect x="588.25" y="415.18" width="11.9" height="25.05" fill="#fef1de"/>
<rect x="619.75" y="415.18" width="11.9" height="25.05" fill="#e10682"/>
<rect x="777.25" y="415.18" width="11.9" height="25.05" fill="#009a33"/>
<rect x="840.25" y="415.18" width="11.9" height="25.05" fill="#e10682"/>
<rect x="100" y="441.77" width="11.9" height="25.05" fill="#fef1de"/>
<rect x="115.75" y="441.77" width="11.9" height="25.05" fill="#3b2895"/>
<rect x="131.5" y="441.77" width="11.9" height="25.05" fill="#fef1de"/>
<rect x="147.25" y="441.77" width="11.9" height="25.05" fill="#3b2895"/>
<rect x="163" y="441.77" width="11.9" height="25.05" fill="#fef1de"/>
<rect x="178.75" y="441.77" width="11.9" height="25.05" fill="#fef1de"/>
<rect x="194.5" y="441.77" width="11.9" height="25.05" fill="#fef1de"/>
<rect x="210.25" y="441.77" width="11.9" height="25.05" fill="#3b2895"/>
<rect x="226" y="441.77" width="11.9" height="25.05" fill="#fef1de"/>
<rect x="241.75" y="441.77" width="11.9" height="25.05" fill="#fef1de"/>
<rect x="257.5" y="441.77" width="11.9" height="25.05" fill="#fef1de"/>
<rect x="273.25" y="441.77" width="11.9" height="25.05" fill="#fef1de"/>
<rect x="289" y="441.77" width="11.9" height="25.05" fill="#fef1de"/>
<rect x="304.75" y="441.77" width="11.9" height="25.05" fill="#fef1de"/>
<rect x="320.5" y="441.77" width="11.9" height="25.05" fill="#fef1de"/>
<rect x="336.25" y="441.77" width="11.9" height="25.05" fill="#fef1de"/>
<rect x="352" y="441.77" width="11.9" height="25.05" fill="#fef1de"/>
<rect x="367.75" y="441.77" width="11.9" height="25.05" fill="#fef1de"/>
<rect x="383.5" y="441.77" width="11.9" height="25.05" fill="#fef1de"/>
<rect x="399.25" y="441.77" width="11.9" height="25.05" fill="#fef1de"/>
<rect x="415" y="441.77" width="11.9" height="25.05" fill="#fef1de"/>
<rect x="430.75" y="441.77" width="11.9" height="25.05" fill="#fef1de"/>
<rect x="446.5" y="441.77" width="11.9" height="25.05" fill="#fef1de"/>
<rect x="462.25" y="441.77" width="11.9" height="25.05" fill="#fef1de"/>
<rect x="478" y="441.77" width="11.9" height="25.05" fill="#fef1de"/>
<rect x="493.75" y="441.77" width="11.9" height="25.05" fill="#fef1de"/>
<rect x="509.5" y="441.77" width="11.9" height="25.05" fill="#fef1de"/>
<rect x="525.25" y="441.77" width="11.9" height="25.05" fill="#fef1de"/>
<rect x="541" y="441.77" width="11.9" height="25.05" fill="#fef1de"/>
<rect x="556.75" y="441.77" width="11.9" height="25.05" fill="#fef1de"/>
<rect x="572.5" y="441.77" width="11.9" height="25.05" fill="#fef1de"/>
<rect x="588.25" y="441.77" width="11.9" height="25.05" fill="#fef1de"/>
<rect x="667" y="441.77" width="11.9" height="25.05" fill="#3b2895"/>
<rect x="100" y="468.36" width="11.9" height="25.05" fill="#fef1de"/>
<rect x="115.75" y="468.36" width="11.9" height="25.05" fill="#fef1de"/>
<rect x="131.5" y="468.36" width="11.9" height="25.05" fill="#fef1de"/>
<rect x="147.25" y="468.36" width="11.9" height="25.05" fill="#fef1de"/>
<rect x="163" y="468.36" width="11.9" height="25.05" fill="#fef1de"/>
<rect x="178.75" y="468.36" width="11.9" height="25.05" fill="#fef1de"/>
<rect x="194.5" y="468.36" width="11.9" height="25.05" fill="#fef1de"/>
<rect x="210.25" y="468.36" width="11.9" height="25.05" fill="#fef1de"/>
<rect x="226" y="468.36" width="11.9" height="25.05" fill="#fef1de"/>
<rect x="241.75" y="468.36" width="11.9" height="25.05" fill="#fef1de"/>
<rect x="257.5" y="468.36" width="11.9" height="25.05" fill="#fef1de"/>
<rect x="273.25" y="468.36" width="11.9" height="25.05" fill="#fef1de"/>
<rect x="289" y="468.36" width="11.9" height="25.05" fill="#fef1de"/>
<rect x="304.75" y="468.36" width="11.9" height="25.05" fill="#fef1de"/>
<rect x="320.5" y="468.36" width="11.9" height="25.05" fill="#fef1de"/>
<rect x="336.25" y="468.36" width="11.9" height="25.05" fill="#fef1de"/>
<rect x="352" y="468.36" width="11.9" height="25.05" fill="#fef1de"/>
<rect x="367.75" y="468.36" width="11.9" height="25.05" fill="#fef1de"/>
<rect x="383.5" y="468.36" width="11.9" height="25.05" fill="#e10682"/>
<rect x="399.25" y="468.36" width="11.9" height="25.05" fill="#fef1de"/>
<rect x="415" y="468.36" width="11.9" height="25.05" fill="#fef1de"/>
<rect x="430.75" y="468.36" width="11.9" height="25.05" fill="#fef1de"/>
<rect x="446.5" y="468.36" width="11.9" height="25.05" fill="#fef1de"/>
<rect x="462.25" y="468.36" width="11.9" height="25.05" fill="#fef1de"/>
<rect x="478" y="468.36" width="11.9" height="25.05" fill="#fef1de"/>
<rect x="493.75" y="468.36" width="11.9" height="25.05" fill="#fef1de"/>
<rect x="509.5" y="468.36" width="11.9" height="25.05" fill="#fef1de"/>
<rect x="525.25" y="468.36" width="11.9" height="25.05" fill="#fef1de"/>
<rect x="541" y="468.36" width="11.9" height="25.05" fill="#fef1de"/>
<rect x="556.75" y="468.36" width="11.9" height="25.05" fill="#fef1de"/>
<rect x="572.5" y="468.36" width="11.9" height="25.05" fill="#fef1de"/>
<rect x="588.25" y="468.36" width="11.9" height="25.05" fill="#fef1de"/>
<rect x="635.5" y="468.36" width="11.9" height="25.05" fill="#e10682"/>
<rect x="808.75" y="468.36" width="11.9" height="25.05" fill="#e10682"/>
<rect x="100" y="494.95" width="11.9" height="25.05" fill="#fef1de"/>
<rect x="115.75" y="494.95" width="11.9" height="25.05" fill="#fef1de"/>
<rect x="131.5" y="494.95" width="11.9" height="25.05" fill="#fef1de"/>
<rect x="147.25" y="494.95" width="11.9" height="25.05" fill="#fef1de"/>
<rect x="163" y="494.95" width="11.9" height="25.05" fill="#fef1de"/>
<rect x="178.75" y="494.95" width="11.9" height="25.05" fill="#fef1de"/>
<rect x="194.5" y="494.95" width="11.9" height="25.05" fill="#fef1de"/>
<rect x="210.25" y="494.95" width="11.9" height="25.05" fill="#fef1de"/>
<rect x="226" y="494.95" width="11.9" height="25.05" fill="#fef1de"/>
<rect x="241.75" y="494.95" width="11.9" height="25.05" fill="#fef1de"/>
<rect x="257.5" y="494.95" width="11.9" height="25.05" fill="#fef1de"/>
<rect x="273.25" y="494.95" width="11.9" height="25.05" fill="#fef1de"/>
<rect x="289" y="494.95" width="11.9" height="25.05" fill="#fef1de"/>
<rect x="304.75" y="494.95" width="11.9" height="25.05" fill="#fef1de"/>
<rect x="320.5" y="494.95" width="11.9" height="25.05" fill="#fef1de"/>
<rect x="336.25" y="494.95" width="11.9" height="25.05" fill="#fef1de"/>
<rect x="352" y="494.95" width="11.9" height="25.05" fill="#fef1de"/>
<rect x="367.75" y="494.95" width="11.9" height="25.05" fill="#fef1de"/>
<rect x="383.5" y="494.95" width="11.9" height="25.05" fill="#fef1de"/>
<rect x="399.25" y="494.95" width="11.9" height="25.05" fill="#e10682"/>
<rect x="415" y="494.95" width="11.9" height="25.05" fill="#fef1de"/>
<rect x="430.75" y="494.95" width="11.9" height="25.05" fill="#fef1de"/>
<rect x="446.5" y="494.95" width="11.9" height="25.05" fill="#fef1de"/>
<rect x="462.25" y="494.95" width="11.9" height="25.05" fill="#fef1de"/>
<rect x="478" y="494.95" width="11.9" height="25.05" fill="#fef1de"/>
<rect x="493.75" y="494.95" width="11.9" height="25.05" fill="#fef1de"/>
<rect x="509.5" y="494.95" width="11.9" height="25.05" fill="#fef1de"/>
<rect x="525.25" y="494.95" width="11.9" height="25.05" fill="#fef1de"/>
<rect x="541" y="494.95" width="11.9" height="25.05" fill="#fef1de"/>
<rect x="556.75" y="494.95" width="11.9" height="25.05" fill="#fef1de"/>
<rect x="572.5" y="494.95" width="11.9" height="25.05" fill="#fef1de"/>
<rect x="588.25" y="494.95" width="11.9" height="25.05" fill="#fef1de"/>
<rect x="604" y="494.95" width="11.9" height="25.05" fill="#e10682"/>
<rect x="793" y="494.95" width="11.9" height="25.05" fill="#e10682"/>
<rect x="100" y="521.54" width="11.9" height="25.05" fill="#e10682"/>
<rect x="115.75" y="521.54" width="11.9" height="25.05" fill="#e10682"/>
<rect x="131.5" y="521.54" width="11.9" height="25.05" fill="#e10682"/>
<rect x="147.25" y="521.54" width="11.9" height="25.05" fill="#fef1de"/>
<rect x="163" y="521.54" width="11.9" height="25.05" fill="#fef1de"/>
<rect x="178.75" y="521.54" width="11.9" height="25.05" fill="#fef1de"/>
<rect x="194.5" y="521.54" width="11.9" height="25.05" fill="#fef1de"/>
<rect x="210.25" y="521.54" width="11.9" height="25.05" fill="#fef1de"/>
<rect x="226" y="521.54" width="11.9" height="25.05" fill="#fef1de"/>
<rect x="241.75" y="521.54" width="11.9" height="25.05" fill="#fef1de"/>
<rect x="257.5" y="521.54" width="11.9" height="25.05" fill="#fef1de"/>
<rect x="273.25" y="521.54" width="11.9" height="25.05" fill="#fef1de"/>
<rect x="289" y="521.54" width="11.9" height="25.05" fill="#fef1de"/>
<rect x="304.75" y="521.54" width="11.9" height="25.05" fill="#fef1de"/>
<rect x="320.5" y="521.54" width="11.9" height="25.05" fill="#fef1de"/>
<rect x="336.25" y="521.54" width="11.9" height="25.05" fill="#fef1de"/>
<rect x="352" y="521.54" width="11.9" height="25.05" fill="#fef1de"/>
<rect x="367.75" y="521.54" width="11.9" height="25.05" fill="#fef1de"/>
<rect x="383.5" y="521.54" width="11.9" height="25.05" fill="#fef1de"/>
<rect x="399.25" y="521.54" width="11.9" height="25.05" fill="#fef1de"/>
<rect x="415" y="521.54" width="11.9" height="25.05" fill="#fef1de"/>
<rect x="430.75" y="521.54" width="11.9" height="25.05" fill="#fef1de"/>
<rect x="446.5" y="521.54" width="11.9" height="25.05" fill="#fef1de"/>
<rect x="462.25" y="521.54" width="11.9" height="25.05" fill="#fef1de"/>
<rect x="478" y="521.54" width="11.9" height="25.05" fill="#fef1de"/>
<rect x="493.75" y="521.54" width="11.9" height="25.05" fill="#fef1de"/>
<rect x="509.5" y="521.54" width="11.9" height="25.05" fill="#fef1de"/>
<rect x="525.25" y="521.54" width="11.9" height="25.05" fill="#fef1de"/>
<rect x="541" y="521.54" width="11.9" height="25.05" fill="#fef1de"/>
<rect x="556.75" y="521.54" width="11.9" height="25.05" fill="#fef1de"/>
<rect x="572.5" y="521.54" width="11.9" height="25.05" fill="#fef1de"/>
<rect x="588.25" y="521.54" width="11.9" height="25.05" fill="#fef1de"/>
<rect x="100" y="548.13" width="11.9" height="25.05" fill="#fef1de"/>
<rect x="115.75" y="548.13" width="11.9" height="25.05" fill="#fef1de"/>
<rect x="131.5" y="548.13" width="11.9" height="25.05" fill="#fef1de"/>
<rect x="147.25" y="548.13" width="11.9" height="25.05" fill="#fef1de"/>
<rect x="163" y="548.13" width="11.9" height="25.05" fill="#fef1de"/>
<rect x="178.75" y="548.13" width="11.9" height="25.05" fill="#fef1de"/>
<rect x="194.5" y="548.13" width="11.9" height="25.05" fill="#fef1de"/>
<rect x="210.25" y="548.13" width="11.9" height="25.05" fill="#fef1de"/>
<rect x="226" y="548.13" width="11.9" height="25.05" fill="#fef1de"/>
<rect x="241.75" y="548.13" width="11.9" height="25.05" fill="#fef1de"/>
<rect x="257.5" y="548.13" width="11.9" height="25.05" fill="#fef1de"/>
<rect x="273.25" y="548.13" width="11.9" height="25.05" fill="#fef1de"/>
<rect x="289" y="548.13" width="11.9" height="25.05" fill="#fef1de"/>
<rect x="304.75" y="548.13" width="11.9" height="25.05" fill="#fef1de"/>
<rect x="320.5" y="548.13" width="11.9" height="25.05" fill="#fef1de"/>
<rect x="336.25" y="548.13" width="11.9" height="25.05" fill="#fef1de"/>
<rect x="352" y="548.13" width="11.9" height="25.05" fill="#fef1de"/>
<rect x="367.75" y="548.13" width="11.9" height="25.05" fill="#fef1de"/>
<rect x="383.5" y="548.13" width="11.9" height="25.05" fill="#e10682"/>
<rect x="399.25" y="548.13" width="11.9" height="25.05" fill="#fef1de"/>
<rect x="415" y="548.13" width="11.9" height="25.05" fill="#fef1de"/>
<rect x="430.75" y="548.13" width="11.9" height="25.05" fill="#fef1de"/>
<rect x="446.5" y="548.13" width="11.9" height="25.05" fill="#fef1de"/>
<rect x="462.25" y="548.13" width="11.9" height="25.05" fill="#fef1de"/>
<rect x="478" y="548.13" width="11.9" height="25.05" fill="#fef1de"/>
<rect x="493.75" y="548.13" width="11.9" height="25.05" fill="#fef1de"/>
<rect x="509.5" y="548.13" width="11.9" height="25.05" fill="#fef1de"/>
<rect x="525.25" y="548.13" width="11.9" height="25.05" fill="#fef1de"/>
<rect x="541" y="548.13" width="11.9" height="25.05" fill="#fef1de"/>
<rect x="556.75" y="548.13" width="11.9" height="25.05" fill="#fef1de"/>
<rect x="572.5" y="548.13" width="11.9" height="25.05" fill="#fef1de"/>
<rect x="588.25" y="548.13" width="11.9" height="25.05" fill="#fef1de"/>
<rect x="635.5" y="548.13" width="11.9" height="25.05" fill="#e10682"/>
<rect x="808.75" y="548.13" width="11.9" height="25.05" fill="#e10682"/>
<rect x="100" y="574.72" width="11.9" height="25.05" fill="#fef1de"/>
<rect x="115.75" y="574.72" width="11.9" height="25.05" fill="#fef1de"/>
<rect x="131.5" y="574.72" width="11.9" height="25.05" fill="#fef1de"/>
<rect x="147.25" y="574.72" width="11.9" height="25.05" fill="#fef1de"/>
<rect x="163" y="574.72" width="11.9" height="25.05" fill="#fef1de"/>
<rect x="178.75" y="574.72" width="11.9" height="25.05" fill="#fef1de"/>
<rect x="194.5" y="574.72" width="11.9" height="25.05" fill="#9a1aa8"/>
<rect x="210.25" y="574.72" width="11.9" height="25.05" fill="#fef1de"/>
<rect x="226" y="574.72" width="11.9" height="25.05" fill="#fef1de"/>
<rect x="241.75" y="574.72" width="11.9" height="25.05" fill="#fef1de"/>
<rect x="257.5" y="574.72" width="11.9" height="25.05" fill="#fef1de"/>
<rect x="273.25" y="574.72" width="11.9" height="25.05" fill="#fef1de"/>
<rect x="289" y="574.72" width="11.9" height="25.05" fill="#f0d6f4"/>
<rect x="304.75" y="574.72" width="11.9" height="25.05" fill="#fef1de"/>
<rect x="320.5" y="574.72" width="11.9" height="25.05" fill="#fef1de"/>
<rect x="336.25" y="574.72" width="11.9" height="25.05" fill="#fef1de"/>
<rect x="352" y="574.72" width="11.9" height="25.05" fill="#fef1de"/>
<rect x="367.75" y="574.72" width="11.9" height="25.05" fill="#fef1de"/>
<rect x="383.5" y="574.72" width="11.9" height="25.05" fill="#fef1de"/>
<rect x="399.25" y="574.72" width="11.9" height="25.05" fill="#fef1de"/>
<rect x="415" y="574.72" width="11.9" height="25.05" fill="#fef1de"/>
<rect x="430.75" y="574.72" width="11.9" height="25.05" fill="#fef1de"/>
<rect x="446.5" y="574.72" width="11.9" height="25.05" fill="#fef1de"/>
<rect x="462.25" y="574.72" width="11.9" height="25.05" fill="#fef1de"/>
<rect x="478" y="574.72" width="11.9" height="25.05" fill="#fef1de"/>
<rect x="493.75" y="574.72" width="11.9" height="25.05" fill="#fef1de"/>
<rect x="509.5" y="574.72" width="11.9" height="25.05" fill="#fef1de"/>
<rect x="525.25" y="574.72" width="11.9" height="25.05" fill="#fef1de"/>
<rect x="541" y="574.72" width="11.9" height="25.05" fill="#fef1de"/>
<rect x="556.75" y="574.72" width="11.9" height="25.05" fill="#fef1de"/>
<rect x="572.5" y="574.72" width="11.9" height="25.05" fill="#fef1de"/>
<rect x="588.25" y="574.72" width="11.9" height="25.05" fill="#fef1de"/>
<rect x="919" y="574.72" width="11.9" height="25.05" fill="#a3cf0a"/>
<rect x="100" y="601.31" width="11.9" height="25.05" fill="#fef1de"/>
<rect x="115.75" y="601.31" width="11.9" height="25.05" fill="#fef1de"/>
<rect x="131.5" y="601.31" width="11.9" height="25.05" fill="#fef1de"/>
<rect x="147.25" y="601.31" width="11.9" height="25.05" fill="#fef1de"/>
<rect x="163" y="601.31" width="11.9" height="25.05" fill="#fef1de"/>
<rect x="178.75" y="601.31" width="11.9" height="25.05" fill="#fef1de"/>
<rect x="194.5" y="601.31" width="11.9" height="25.05" fill="#fef1de"/>
<rect x="210.25" y="601.31" width="11.9" height="25.05" fill="#fef1de"/>
<rect x="226" y="601.31" width="11.9" height="25.05" fill="#fef1de"/>
<rect x="241.75" y="601.31" width="11.9" height="25.05" fill="#fef1de"/>
<rect x="257.5" y="601.31" width="11.9" height="25.05" fill="#fef1de"/>
<rect x="273.25" y="601.31" width="11.9" height="25.05" fill="#fef1de"/>
<rect x="289" y="601.31" width="11.9" height="25.05" fill="#fef1de"/>
<rect x="304.75" y="601.31" width="11.9" height="25.05" fill="#fef1de"/>
<rect x="320.5" y="601.31" width="11.9" height="25.05" fill="#fef1de"/>
<rect x="336.25" y="601.31" width="11.9" height="25.05" fill="#fef1de"/>
<rect x="352" y="601.31" width="11.9" height="25.05" fill="#fef1de"/>
<rect x="367.75" y="601.31" width="11.9" height="25.05" fill="#fef1de"/>
<rect x="383.5" y="601.31" width="11.9" height="25.05" fill="#fef1de"/>
<rect x="399.25" y="601.31" width="11.9" height="25.05" fill="#e10682"/>
<rect x="415" y="601.31" width="11.9" height="25.05" fill="#fef1de"/>
<rect x="430.75" y="601.31" width="11.9" height="25.05" fill="#fef1de"/>
<rect x="446.5" y="601.31" width="11.9" height="25.05" fill="#fef1de"/>
<rect x="462.25" y="601.31" width="11.9" height="25.05" fill="#fef1de"/>
<rect x="478" y="601.31" width="11.9" height="25.05" fill="#fef1de"/>
<rect x="493.75" y="601.31" width="11.9" height="25.05" fill="#fef1de"/>
<rect x="509.5" y="601.31" width="11.9" height="25.05" fill="#fef1de"/>
<rect x="525.25" y="601.31" width="11.9" height="25.05" fill="#fef1de"/>
<rect x="541" y="601.31" width="11.9" height="25.05" fill="#fef1de"/>
<rect x="556.75" y="601.31" width="11.9" height="25.05" fill="#fef1de"/>
<rect x="572.5" y="601.31" width="11.9" height="25.05" fill="#fef1de"/>
<rect x="588.25" y="601.31" width="11.9" height="25.05" fill="#fef1de"/>
<rect x="604" y="601.31" width="11.9" height="25.05" fill="#e10682"/>
<rect x="793" y="601.31" width="11.9" height="25.05" fill="#e10682"/>
<rect x="100" y="627.9" width="11.9" height="25.05" fill="#e10682"/>
<rect x="115.75" y="627.9" width="11.9" height="25.05" fill="#e10682"/>
<rect x="131.5" y="627.9" width="11.9" height="25.05" fill="#e10682"/>
<rect x="147.25" y="627.9" width="11.9" height="25.05" fill="#fef1de"/>
<rect x="163" y="627.9" width="11.9" height="25.05" fill="#fef1de"/>
<rect x="178.75" y="627.9" width="11.9" height="25.05" fill="#fef1de"/>
<rect x="194.5" y="627.9" width="11.9" height="25.05" fill="#fef1de"/>
<rect x="210.25" y="627.9" width="11.9" height="25.05" fill="#fef1de"/>
<rect x="226" y="627.9" width="11.9" height="25.05" fill="#fef1de"/>
<rect x="241.75" y="627.9" width="11.9" height="25.05" fill="#fef1de"/>
<rect x="257.5" y="627.9" width="11.9" height="25.05" fill="#fef1de"/>
<rect x="273.25" y="627.9" width="11.9" height="25.05" fill="#fef1de"/>
<rect x="289" y="627.9" width="11.9" height="25.05" fill="#fef1de"/>
<rect x="304.75" y="627.9" width="11.9" height="25.05" fill="#fef1de"/>
<rect x="320.5" y="627.9" width="11.9" height="25.05" fill="#fef1de"/>
<rect x="336.25" y="627.9" width="11.9" height="25.05" fill="#fef1de"/>
<rect x="352" y="627.9" width="11.9" height="25.05" fill="#fef1de"/>
<rect x="367.75" y="627.9" width="11.9" height="25.05" fill="#fef1de"/>
<rect x="383.5" y="627.9" width="11.9" height="25.05" fill="#fef1de"/>
<rect x="399.25" y="627.9" width="11.9" height="25.05" fill="#fef1de"/>
<rect x="415" y="627.9" width="11.9" height="25.05" fill="#fef1de"/>
<rect x="430.75" y="627.9" width="11.9" height="25.05" fill="#fef1de"/>
<rect x="446.5" y="627.9" width="11.9" height="25.05" fill="#fef1de"/>
<rect x="462.25" y="627.9" width="11.9" height="25.05" fill="#fef1de"/>
<rect x="478" y="627.9" width="11.9" height="25.05" fill="#fef1de"/>
<rect x="493.75" y="627.9" width="11.9" height="25.05" fill="#fef1de"/>
<rect x="509.5" y="627.9" width="11.9" height="25.05" fill="#fef1de"/>
<rect x="525.25" y="627.9" width="11.9" height="25.05" fill="#fef1de"/>
<rect x="541" y="627.9" width="11.9" height="25.05" fill="#fef1de"/>
<rect x="556.75" y="627.9" width="11.9" height="25.05" fill="#fef1de"/>
<rect x="572.5" y="627.9" width="11.9" height="25.05" fill="#fef1de"/>
<rect x="588.25" y="627.9" width="11.9" height="25.05" fill="#fef1de"/>
<rect x="100" y="654.49" width="11.9" height="25.05" fill="#fef1de"/>
<rect x="115.75" y="654.49" width="11.9" height="25.05" fill="#fef1de"/>
<rect x="131.5" y="654.49" width="11.9" height="25.05" fill="#fef1de"/>
<rect x="147.25" y="654.49" width="11.9" height="25.05" fill="#fef1de"/>
<rect x="163" y="654.49" width="11.9" height="25.05" fill="#fef1de"/>
<rect x="178.75" y="654.49" width="11.9" height="25.05" fill="#fef1de"/>
<rect x="194.5" y="654.49" width="11.9" height="25.05" fill="#fef1de"/>
<rect x="210.25" y="654.49" width="11.9" height="25.05" fill="#fef1de"/>
<rect x="226" y="654.49" width="11.9" height="25.05" fill="#fef1de"/>
<rect x="241.75" y="654.49" width="11.9" height="25.05" fill="#fef1de"/>
<rect x="257.5" y="654.49" width="11.9" height="25.05" fill="#fef1de"/>
<rect x="273.25" y="654.49" width="11.9" height="25.05" fill="#fef1de"/>
<rect x="289" y="654.49" width="11.9" height="25.05" fill="#fef1de"/>
<rect x="304.75" y="654.49" width="11.9" height="25.05" fill="#fef1de"/>
<rect x="320.5" y="654.49" width="11.9" height="25.05" fill="#fef1de"/>
<rect x="336.25" y="654.49" width="11.9" height="25.05" fill="#fef1de"/>
<rect x="352" y="654.49" width="11.9" height="25.05" fill="#fef1de"/>
<rect x="367.75" y="654.49" width="11.9" height="25.05" fill="#fef1de"/>
<rect x="383.5" y="654.49" width="11.9" height="25.05" fill="#fef1de"/>
<rect x="399.25" y="654.49" width="11.9" height="25.05" fill="#e10682"/>
<rect x="415" y="654.49" width="11.9" height="25.05" fill="#fef1de"/>
<rect x="430.75" y="654.49" width="11.9" height="25.05" fill="#fef1de"/>
<rect x="446.5" y="654.49" width="11.9" height="25.05" fill="#fef1de"/>
<rect x="462.25" y="654.49" width="11.9" height="25.05" fill="#fef1de"/>
<rect x="478" y="654.49" width="11.9" height="25.05" fill="#fef1de"/>
<rect x="493.75" y="654.49" width="11.9" height="25.05" fill="#fef1de"/>
<rect x="509.5" y="654.49" width="11.9" height="25.05" fill="#fef1de"/>
<rect x="525.25" y="654.49" width="11.9" height="25.05" fill="#fef1de"/>
<rect x="541" y="654.49" width="11.9" height="25.05" fill="#fef1de"/>
<rect x="556.75" y="654.49" width="11.9" height="25.05" fill="#fef1de"/>
<rect x="572.5" y="654.49" width="11.9" height="25.05" fill="#fef1de"/>
<rect x="588.25" y="654.49" width="11.9" height="25.05" fill="#fef1de"/>
<rect x="604" y="654.49" width="11.9" height="25.05" fill="#e10682"/>
<rect x="793" y="654.49" width="11.9" height="25.05" fill="#e10682"/>
<rect x="100" y="681.08" width="11.9" height="25.05" fill="#fef1de"/>
<rect x="115.75" y="681.08" width="11.9" height="25.05" fill="#fef1de"/>
<rect x="131.5" y="681.08" width="11.9" height="25.05" fill="#fef1de"/>
<rect x="147.25" y="681.08" width="11.9" height="25.05" fill="#fef1de"/>
<rect x="163" y="681.08" width="11.9" height="25.05" fill="#fef1de"/>
<rect x="178.75" y="681.08" width="11.9" height="25.05" fill="#fef1de"/>
<rect x="194.5" y="681.08" width="11.9" height="25.05" fill="#fef1de"/>
<rect x="210.25" y="681.08" width="11.9" height="25.05" fill="#fef1de"/>
<rect x="226" y="681.08" width="11.9" height="25.05" fill="#fef1de"/>
<rect x="241.75" y="681.08" width="11.9" height="25.05" fill="#fef1de"/>
<rect x="257.5" y="681.08" width="11.9" height="25.05" fill="#fef1de"/>
<rect x="273.25" y="681.08" width="11.9" height="25.05" fill="#fef1de"/>
<rect x="289" y="681.08" width="11.9" height="25.05" fill="#fef1de"/>
<rect x="304.75" y="681.08" width="11.9" height="25.05" fill="#fef1de"/>
<rect x="320.5" y="681.08" width="11.9" height="25.05" fill="#fef1de"/>
<rect x="336.25" y="681.08" width="11.9" height="25.05" fill="#fef1de"/>
<rect x="352" y="681.08" width="11.9" height="25.05" fill="#fef1de"/>
<rect x="367.75" y="681.08" width="11.9" height="25.05" fill="#fef1de"/>
<rect x="383.5" y="681.08" width="11.9" height="25.05" fill="#fef1de"/>
<rect x="399.25" y="681.08" width="11.9" height="25.05" fill="#fef1de"/>
<rect x="415" y="681.08" width="11.9" height="25.05" fill="#a3cf0a"/>
<rect x="416.75" y="689.46" width="9" height="8.7" fill="#131313"/>
<rect x="430.75" y="681.08" width="11.9" height="25.05" fill="#fef1de"/>
<rect x="446.5" y="681.08" width="11.9" height="25.05" fill="#fef1de"/>
<rect x="462.25" y="681.08" width="11.9" height="25.05" fill="#fef1de"/>
<rect x="478" y="681.08" width="11.9" height="25.05" fill="#fef1de"/>
<rect x="493.75" y="681.08" width="11.9" height="25.05" fill="#fef1de"/>
<rect x="509.5" y="681.08" width="11.9" height="25.05" fill="#fef1de"/>
<rect x="525.25" y="681.08" width="11.9" height="25.05" fill="#fef1de"/>
<rect x="541" y="681.08" width="11.9" height="25.05" fill="#fef1de"/>
<rect x="556.75" y="681.08" width="11.9" height="25.05" fill="#fef1de"/>
<rect x="572.5" y="681.08" width="11.9" height="25.05" fill="#fef1de"/>
<rect x="588.25" y="681.08" width="11.9" height="25.05" fill="#fef1de"/>
<rect x="619.75" y="681.08" width="11.9" height="25.05" fill="#e10682"/>
<rect x="100" y="707.67" width="11.9" height="25.05" fill="#e10682"/>
<rect x="115.75" y="707.67" width="11.9" height="25.05" fill="#e10682"/>
<rect x="131.5" y="707.67" width="11.9" height="25.05" fill="#e10682"/>
<rect x="147.25" y="707.67" width="11.9" height="25.05" fill="#fef1de"/>
<rect x="163" y="707.67" width="11.9" height="25.05" fill="#fef1de"/>
<rect x="178.75" y="707.67" width="11.9" height="25.05" fill="#fef1de"/>
<rect x="194.5" y="707.67" width="11.9" height="25.05" fill="#fef1de"/>
<rect x="210.25" y="707.67" width="11.9" height="25.05" fill="#fef1de"/>
<rect x="226" y="707.67" width="11.9" height="25.05" fill="#fef1de"/>
<rect x="241.75" y="707.67" width="11.9" height="25.05" fill="#fef1de"/>
<rect x="257.5" y="707.67" width="11.9" height="25.05" fill="#fef1de"/>
<rect x="273.25" y="707.67" width="11.9" height="25.05" fill="#fef1de"/>
<rect x="289" y="707.67" width="11.9" height="25.05" fill="#fef1de"/>
<rect x="304.75" y="707.67" width="11.9" height="25.05" fill="#fef1de"/>
<rect x="320.5" y="707.67" width="11.9" height="25.05" fill="#fef1de"/>
<rect x="336.25" y="707.67" width="11.9" height="25.05" fill="#fef1de"/>
<rect x="352" y="707.67" width="11.9" height="25.05" fill="#fef1de"/>
<rect x="367.75" y="707.67" width="11.9" height="25.05" fill="#fef1de"/>
<rect x="383.5" y="707.67" width="11.9" height="25.05" fill="#fef1de"/>
<rect x="399.25" y="707.67" width="11.9" height="25.05" fill="#fef1de"/>
<rect x="415" y="707.67" width="11.9" height="25.05" fill="#fef1de"/>
<rect x="430.75" y="707.67" width="11.9" height="25.05" fill="#fef1de"/>
<rect x="446.5" y="707.67" width="11.9" height="25.05" fill="#fef1de"/>
<rect x="462.25" y="707.67" width="11.9" height="25.05" fill="#fef1de"/>
<rect x="478" y="707.67" width="11.9" height="25.05" fill="#fef1de"/>
<rect x="493.75" y="707.67" width="11.9" height="25.05" fill="#fef1de"/>
<rect x="509.5" y="707.67" width="11.9" height="25.05" fill="#fef1de"/>
<rect x="525.25" y="707.67" width="11.9" height="25.05" fill="#fef1de"/>
<rect x="541" y="707.67" width="11.9" height="25.05" fill="#fef1de"/>
<rect x="556.75" y="707.67" width="11.9" height="25.05" fill="#fef1de"/>
<rect x="572.5" y="707.67" width="11.9" height="25.05" fill="#fef1de"/>
<rect x="588.25" y="707.67" width="11.9" height="25.05" fill="#fef1de"/>
<rect x="100" y="734.26" width="11.9" height="25.05" fill="#fef1de"/>
<rect x="115.75" y="734.26" width="11.9" height="25.05" fill="#fef1de"/>
<rect x="131.5" y="734.26" width="11.9" height="25.05" fill="#fef1de"/>
<rect x="147.25" y="734.26" width="11.9" height="25.05" fill="#fef1de"/>
<rect x="163" y="734.26" width="11.9" height="25.05" fill="#fef1de"/>
<rect x="178.75" y="734.26" width="11.9" height="25.05" fill="#fef1de"/>
<rect x="194.5" y="734.26" width="11.9" height="25.05" fill="#fef1de"/>
<rect x="210.25" y="734.26" width="11.9" height="25.05" fill="#fef1de"/>
<rect x="226" y="734.26" width="11.9" height="25.05" fill="#fef1de"/>
<rect x="241.75" y="734.26" width="11.9" height="25.05" fill="#fef1de"/>
<rect x="257.5" y="734.26" width="11.9" height="25.05" fill="#fef1de"/>
<rect x="273.25" y="734.26" width="11.9" height="25.05" fill="#fef1de"/>
<rect x="289" y="734.26" width="11.9" height="25.05" fill="#fef1de"/>
<rect x="304.75" y="734.26" width="11.9" height="25.05" fill="#fef1de"/>
<rect x="320.5" y="734.26" width="11.9" height="25.05" fill="#fef1de"/>
<rect x="336.25" y="734.26" width="11.9" height="25.05" fill="#fef1de"/>
<rect x="352" y="734.26" width="11.9" height="25.05" fill="#fef1de"/>
<rect x="367.75" y="734.26" width="11.9" height="25.05" fill="#fef1de"/>
<rect x="383.5" y="734.26" width="11.9" height="25.05" fill="#fef1de"/>
<rect x="399.25" y="734.26" width="11.9" height="25.05" fill="#fef1de"/>
<rect x="415" y="734.26" width="11.9" height="25.05" fill="#fef1de"/>
<rect x="430.75" y="734.26" width="11.9" height="25.05" fill="#fef1de"/>
<rect x="446.5" y="734.26" width="11.9" height="25.05" fill="#fef1de"/>
<rect x="462.25" y="734.26" width="11.9" height="25.05" fill="#fef1de"/>
<rect x="478" y="734.26" width="11.9" height="25.05" fill="#fef1de"/>
<rect x="493.75" y="734.26" width="11.9" height="25.05" fill="#fef1de"/>
<rect x="509.5" y="734.26" width="11.9" height="25.05" fill="#fef1de"/>
<rect x="525.25" y="734.26" width="11.9" height="25.05" fill="#fef1de"/>
<rect x="541" y="734.26" width="11.9" height="25.05" fill="#fef1de"/>
<rect x="556.75" y="734.26" width="11.9" height="25.05" fill="#fef1de"/>
<rect x="572.5" y="734.26" width="11.9" height="25.05" fill="#fef1de"/>
<rect x="588.25" y="734.26" width="11.9" height="25.05" fill="#fef1de"/>
<rect x="604" y="734.26" width="11.9" height="25.05" fill="#e10682"/>
<rect x="619.75" y="734.26" width="11.9" height="25.05" fill="#e10682"/>
<rect x="793" y="734.26" width="11.9" height="25.05" fill="#e10682"/>
<rect x="100" y="760.85" width="11.9" height="25.05" fill="#fef1de"/>
<rect x="115.75" y="760.85" width="11.9" height="25.05" fill="#fef1de"/>
<rect x="131.5" y="760.85" width="11.9" height="25.05" fill="#fef1de"/>
<rect x="147.25" y="760.85" width="11.9" height="25.05" fill="#fef1de"/>
<rect x="163" y="760.85" width="11.9" height="25.05" fill="#fef1de"/>
<rect x="178.75" y="760.85" width="11.9" height="25.05" fill="#fef1de"/>
<rect x="194.5" y="760.85" width="11.9" height="25.05" fill="#fef1de"/>
<rect x="210.25" y="760.85" width="11.9" height="25.05" fill="#fef1de"/>
<rect x="226" y="760.85" width="11.9" height="25.05" fill="#fef1de"/>
<rect x="241.75" y="760.85" width="11.9" height="25.05" fill="#fef1de"/>
<rect x="257.5" y="760.85" width="11.9" height="25.05" fill="#fef1de"/>
<rect x="273.25" y="760.85" width="11.9" height="25.05" fill="#fef1de"/>
<rect x="289" y="760.85" width="11.9" height="25.05" fill="#fef1de"/>
<rect x="304.75" y="760.85" width="11.9" height="25.05" fill="#fef1de"/>
<rect x="320.5" y="760.85" width="11.9" height="25.05" fill="#fef1de"/>
<rect x="336.25" y="760.85" width="11.9" height="25.05" fill="#fef1de"/>
<rect x="352" y="760.85" width="11.9" height="25.05" fill="#fef1de"/>
<rect x="367.75" y="760.85" width="11.9" height="25.05" fill="#fef1de"/>
<rect x="383.5" y="760.85" width="11.9" height="25.05" fill="#fef1de"/>
<rect x="399.25" y="760.85" width="11.9" height="25.05" fill="#fef1de"/>
<rect x="415" y="760.85" width="11.9" height="25.05" fill="#fef1de"/>
<rect x="430.75" y="760.85" width="11.9" height="25.05" fill="#fef1de"/>
<rect x="446.5" y="760.85" width="11.9" height="25.05" fill="#fef1de"/>
<rect x="462.25" y="760.85" width="11.9" height="25.05" fill="#fef1de"/>
<rect x="478" y="760.85" width="11.9" height="25.05" fill="#fef1de"/>
<rect x="493.75" y="760.85" width="11.9" height="25.05" fill="#fef1de"/>
<rect x="509.5" y="760.85" width="11.9" height="25.05" fill="#fef1de"/>
<rect x="525.25" y="760.85" width="11.9" height="25.05" fill="#fef1de"/>
<rect x="541" y="760.85" width="11.9" height="25.05" fill="#fef1de"/>
<rect x="556.75" y="760.85" width="11.9" height="25.05" fill="#fef1de"/>
<rect x="572.5" y="760.85" width="11.9" height="25.05" fill="#fef1de"/>
<rect x="588.25" y="760.85" width="11.9" height="25.05" fill="#fef1de"/>
<rect x="619.75" y="760.85" width="11.9" height="25.05" fill="#e10682"/>
<rect x="793" y="760.85" width="11.9" height="25.05" fill="#e10682"/>
<rect x="100" y="787.44" width="11.9" height="25.05" fill="#fef1de"/>
<rect x="115.75" y="787.44" width="11.9" height="25.05" fill="#fef1de"/>
<rect x="131.5" y="787.44" width="11.9" height="25.05" fill="#fef1de"/>
<rect x="147.25" y="787.44" width="11.9" height="25.05" fill="#fef1de"/>
<rect x="163" y="787.44" width="11.9" height="25.05" fill="#fef1de"/>
<rect x="178.75" y="787.44" width="11.9" height="25.05" fill="#fef1de"/>
<rect x="194.5" y="787.44" width="11.9" height="25.05" fill="#fef1de"/>
<rect x="210.25" y="787.44" width="11.9" height="25.05" fill="#fef1de"/>
<rect x="226" y="787.44" width="11.9" height="25.05" fill="#fef1de"/>
<rect x="241.75" y="787.44" width="11.9" height="25.05" fill="#fef1de"/>
<rect x="257.5" y="787.44" width="11.9" height="25.05" fill="#fef1de"/>
<rect x="273.25" y="787.44" width="11.9" height="25.05" fill="#009a33"/>
<rect x="289" y="787.44" width="11.9" height="25.05" fill="#a3cf0a"/>
<rect x="304.75" y="787.44" width="11.9" height="25.05" fill="#fef1de"/>
<rect x="320.5" y="787.44" width="11.9" height="25.05" fill="#fef1de"/>
<rect x="336.25" y="787.44" width="11.9" height="25.05" fill="#fef1de"/>
<rect x="352" y="787.44" width="11.9" height="25.05" fill="#fef1de"/>
<rect x="367.75" y="787.44" width="11.9" height="25.05" fill="#fef1de"/>
<rect x="383.5" y="787.44" width="11.9" height="25.05" fill="#fef1de"/>
<rect x="399.25" y="787.44" width="11.9" height="25.05" fill="#fef1de"/>
<rect x="415" y="787.44" width="11.9" height="25.05" fill="#fef1de"/>
<rect x="430.75" y="787.44" width="11.9" height="25.05" fill="#fef1de"/>
<rect x="446.5" y="787.44" width="11.9" height="25.05" fill="#fef1de"/>
<rect x="462.25" y="787.44" width="11.9" height="25.05" fill="#fef1de"/>
<rect x="478" y="787.44" width="11.9" height="25.05" fill="#fef1de"/>
<rect x="493.75" y="787.44" width="11.9" height="25.05" fill="#fef1de"/>
<rect x="509.5" y="787.44" width="11.9" height="25.05" fill="#fef1de"/>
<rect x="525.25" y="787.44" width="11.9" height="25.05" fill="#fef1de"/>
<rect x="541" y="787.44" width="11.9" height="25.05" fill="#fef1de"/>
<rect x="556.75" y="787.44" width="11.9" height="25.05" fill="#fef1de"/>
<rect x="572.5" y="787.44" width="11.9" height="25.05" fill="#fef1de"/>
<rect x="588.25" y="787.44" width="11.9" height="25.05" fill="#fef1de"/>
<rect x="100" y="814.03" width="11.9" height="25.05" fill="#fef1de"/>
<rect x="115.75" y="814.03" width="11.9" height="25.05" fill="#3b2895"/>
<rect x="131.5" y="814.03" width="11.9" height="25.05" fill="#fef1de"/>
<rect x="147.25" y="814.03" width="11.9" height="25.05" fill="#fef1de"/>
<rect x="163" y="814.03" width="11.9" height="25.05" fill="#fef1de"/>
<rect x="178.75" y="814.03" width="11.9" height="25.05" fill="#fef1de"/>
<rect x="194.5" y="814.03" width="11.9" height="25.05" fill="#fef1de"/>
<rect x="210.25" y="814.03" width="11.9" height="25.05" fill="#fef1de"/>
<rect x="226" y="814.03" width="11.9" height="25.05" fill="#fef1de"/>
<rect x="241.75" y="814.03" width="11.9" height="25.05" fill="#fef1de"/>
<rect x="257.5" y="814.03" width="11.9" height="25.05" fill="#fef1de"/>
<rect x="273.25" y="814.03" width="11.9" height="25.05" fill="#fef1de"/>
<rect x="289" y="814.03" width="11.9" height="25.05" fill="#fef1de"/>
<rect x="304.75" y="814.03" width="11.9" height="25.05" fill="#fef1de"/>
<rect x="320.5" y="814.03" width="11.9" height="25.05" fill="#fef1de"/>
<rect x="336.25" y="814.03" width="11.9" height="25.05" fill="#fef1de"/>
<rect x="352" y="814.03" width="11.9" height="25.05" fill="#fef1de"/>
<rect x="367.75" y="814.03" width="11.9" height="25.05" fill="#fef1de"/>
<rect x="383.5" y="814.03" width="11.9" height="25.05" fill="#fef1de"/>
<rect x="399.25" y="814.03" width="11.9" height="25.05" fill="#fef1de"/>
<rect x="415" y="814.03" width="11.9" height="25.05" fill="#fef1de"/>
<rect x="430.75" y="814.03" width="11.9" height="25.05" fill="#fef1de"/>
<rect x="446.5" y="814.03" width="11.9" height="25.05" fill="#fef1de"/>
<rect x="462.25" y="814.03" width="11.9" height="25.05" fill="#fef1de"/>
<rect x="478" y="814.03" width="11.9" height="25.05" fill="#fef1de"/>
<rect x="493.75" y="814.03" width="11.9" height="25.05" fill="#fef1de"/>
<rect x="509.5" y="814.03" width="11.9" height="25.05" fill="#fef1de"/>
<rect x="525.25" y="814.03" width="11.9" height="25.05" fill="#fef1de"/>
<rect x="541" y="814.03" width="11.9" height="25.05" fill="#fef1de"/>
<rect x="556.75" y="814.03" width="11.9" height="25.05" fill="#fef1de"/>
<rect x="572.5" y="814.03" width="11.9" height="25.05" fill="#fef1de"/>
<rect x="588.25" y="814.03" width="11.9" height="25.05" fill="#fef1de"/>
<rect x="667" y="814.03" width="11.9" height="25.05" fill="#3b2895"/>
<rect x="100" y="840.62" width="11.9" height="25.05" fill="#e10682"/>
<rect x="115.75" y="840.62" width="11.9" height="25.05" fill="#fef1de"/>
<rect x="131.5" y="840.62" width="11.9" height="25.05" fill="#fef1de"/>
<rect x="147.25" y="840.62" width="11.9" height="25.05" fill="#fef1de"/>
<rect x="163" y="840.62" width="11.9" height="25.05" fill="#fef1de"/>
<rect x="178.75" y="840.62" width="11.9" height="25.05" fill="#fef1de"/>
<rect x="194.5" y="840.62" width="11.9" height="25.05" fill="#fef1de"/>
<rect x="210.25" y="840.62" width="11.9" height="25.05" fill="#fef1de"/>
<rect x="226" y="840.62" width="11.9" height="25.05" fill="#fef1de"/>
<rect x="241.75" y="840.62" width="11.9" height="25.05" fill="#fef1de"/>
<rect x="257.5" y="840.62" width="11.9" height="25.05" fill="#fef1de"/>
<rect x="273.25" y="840.62" width="11.9" height="25.05" fill="#fef1de"/>
<rect x="289" y="840.62" width="11.9" height="25.05" fill="#fef1de"/>
<rect x="304.75" y="840.62" width="11.9" height="25.05" fill="#fef1de"/>
<rect x="320.5" y="840.62" width="11.9" height="25.05" fill="#fef1de"/>
<rect x="336.25" y="840.62" width="11.9" height="25.05" fill="#fef1de"/>
<rect x="352" y="840.62" width="11.9" height="25.05" fill="#fef1de"/>
<rect x="367.75" y="840.62" width="11.9" height="25.05" fill="#fef1de"/>
<rect x="383.5" y="840.62" width="11.9" height="25.05" fill="#fef1de"/>
<rect x="399.25" y="840.62" width="11.9" height="25.05" fill="#fef1de"/>
<rect x="415" y="840.62" width="11.9" height="25.05" fill="#fef1de"/>
<rect x="430.75" y="840.62" width="11.9" height="25.05" fill="#fef1de"/>
<rect x="446.5" y="840.62" width="11.9" height="25.05" fill="#fef1de"/>
<rect x="462.25" y="840.62" width="11.9" height="25.05" fill="#fef1de"/>
<rect x="478" y="840.62" width="11.9" height="25.05" fill="#fef1de"/>
<rect x="493.75" y="840.62" width="11.9" height="25.05" fill="#fef1de"/>
<rect x="509.5" y="840.62" width="11.9" height="25.05" fill="#fef1de"/>
<rect x="525.25" y="840.62" width="11.9" height="25.05" fill="#fef1de"/>
<rect x="541" y="840.62" width="11.9" height="25.05" fill="#fef1de"/>
<rect x="556.75" y="840.62" width="11.9" height="25.05" fill="#fef1de"/>
<rect x="572.5" y="840.62" width="11.9" height="25.05" fill="#fef1de"/>
<rect x="588.25" y="840.62" width="11.9" height="25.05" fill="#fef1de"/>
<rect x="793" y="840.62" width="11.9" height="25.05" fill="#e10682"/>
<rect x="100" y="867.21" width="11.9" height="25.05" fill="#fef1de"/>
<rect x="115.75" y="867.21" width="11.9" height="25.05" fill="#fef1de"/>
<rect x="131.5" y="867.21" width="11.9" height="25.05" fill="#fef1de"/>
<rect x="147.25" y="867.21" width="11.9" height="25.05" fill="#fef1de"/>
<rect x="163" y="867.21" width="11.9" height="25.05" fill="#fef1de"/>
<rect x="178.75" y="867.21" width="11.9" height="25.05" fill="#fef1de"/>
<rect x="194.5" y="867.21" width="11.9" height="25.05" fill="#fef1de"/>
<rect x="210.25" y="867.21" width="11.9" height="25.05" fill="#fef1de"/>
<rect x="226" y="867.21" width="11.9" height="25.05" fill="#fef1de"/>
<rect x="241.75" y="867.21" width="11.9" height="25.05" fill="#fef1de"/>
<rect x="257.5" y="867.21" width="11.9" height="25.05" fill="#fef1de"/>
<rect x="273.25" y="867.21" width="11.9" height="25.05" fill="#fef1de"/>
<rect x="289" y="867.21" width="11.9" height="25.05" fill="#fef1de"/>
<rect x="304.75" y="867.21" width="11.9" height="25.05" fill="#fef1de"/>
<rect x="320.5" y="867.21" width="11.9" height="25.05" fill="#fef1de"/>
<rect x="336.25" y="867.21" width="11.9" height="25.05" fill="#fef1de"/>
<rect x="352" y="867.21" width="11.9" height="25.05" fill="#fef1de"/>
<rect x="367.75" y="867.21" width="11.9" height="25.05" fill="#fef1de"/>
<rect x="383.5" y="867.21" width="11.9" height="25.05" fill="#fef1de"/>
<rect x="399.25" y="867.21" width="11.9" height="25.05" fill="#fef1de"/>
<rect x="415" y="867.21" width="11.9" height="25.05" fill="#fef1de"/>
<rect x="430.75" y="867.21" width="11.9" height="25.05" fill="#fef1de"/>
<rect x="446.5" y="867.21" width="11.9" height="25.05" fill="#fef1de"/>
<rect x="462.25" y="867.21" width="11.9" height="25.05" fill="#fef1de"/>
<rect x="478" y="867.21" width="11.9" height="25.05" fill="#fef1de"/>
<rect x="493.75" y="867.21" width="11.9" height="25.05" fill="#fef1de"/>
<rect x="509.5" y="867.21" width="11.9" height="25.05" fill="#fef1de"/>
<rect x="525.25" y="867.21" width="11.9" height="25.05" fill="#fef1de"/>
<rect x="541" y="867.21" width="11.9" height="25.05" fill="#fef1de"/>
<rect x="556.75" y="867.21" width="11.9" height="25.05" fill="#fef1de"/>
<rect x="572.5" y="867.21" width="11.9" height="25.05" fill="#fef1de"/>
<rect x="588.25" y="867.21" width="11.9" height="25.05" fill="#fef1de"/>
<rect x="619.75" y="867.21" width="11.9" height="25.05" fill="#e10682"/>
<rect x="793" y="867.21" width="11.9" height="25.05" fill="#e10682"/>
<rect x="100" y="893.8" width="11.9" height="25.05" fill="#fef1de"/>
<rect x="115.75" y="893.8" width="11.9" height="25.05" fill="#e10682"/>
<rect x="131.5" y="893.8" width="11.9" height="25.05" fill="#fef1de"/>
<rect x="147.25" y="893.8" width="11.9" height="25.05" fill="#fef1de"/>
<rect x="163" y="893.8" width="11.9" height="25.05" fill="#fef1de"/>
<rect x="178.75" y="893.8" width="11.9" height="25.05" fill="#fef1de"/>
<rect x="194.5" y="893.8" width="11.9" height="25.05" fill="#fef1de"/>
<rect x="210.25" y="893.8" width="11.9" height="25.05" fill="#fef1de"/>
<rect x="226" y="893.8" width="11.9" height="25.05" fill="#fef1de"/>
<rect x="241.75" y="893.8" width="11.9" height="25.05" fill="#fef1de"/>
<rect x="257.5" y="893.8" width="11.9" height="25.05" fill="#fef1de"/>
<rect x="273.25" y="893.8" width="11.9" height="25.05" fill="#fef1de"/>
<rect x="289" y="893.8" width="11.9" height="25.05" fill="#fef1de"/>
<rect x="304.75" y="893.8" width="11.9" height="25.05" fill="#fef1de"/>
<rect x="320.5" y="893.8" width="11.9" height="25.05" fill="#fef1de"/>
<rect x="336.25" y="893.8" width="11.9" height="25.05" fill="#fef1de"/>
<rect x="352" y="893.8" width="11.9" height="25.05" fill="#fef1de"/>
<rect x="367.75" y="893.8" width="11.9" height="25.05" fill="#fef1de"/>
<rect x="383.5" y="893.8" width="11.9" height="25.05" fill="#fef1de"/>
<rect x="399.25" y="893.8" width="11.9" height="25.05" fill="#fef1de"/>
<rect x="415" y="893.8" width="11.9" height="25.05" fill="#fef1de"/>
<rect x="430.75" y="893.8" width="11.9" height="25.05" fill="#fef1de"/>
<rect x="446.5" y="893.8" width="11.9" height="25.05" fill="#fef1de"/>
<rect x="462.25" y="893.8" width="11.9" height="25.05" fill="#fef1de"/>
<rect x="478" y="893.8" width="11.9" height="25.05" fill="#fef1de"/>
<rect x="493.75" y="893.8" width="11.9" height="25.05" fill="#fef1de"/>
<rect x="509.5" y="893.8" width="11.9" height="25.05" fill="#fef1de"/>
<rect x="525.25" y="893.8" width="11.9" height="25.05" fill="#fef1de"/>
<rect x="541" y="893.8" width="11.9" height="25.05" fill="#fef1de"/>
<rect x="556.75" y="893.8" width="11.9" height="25.05" fill="#fef1de"/>
<rect x="572.5" y="893.8" width="11.9" height="25.05" fill="#fef1de"/>
<rect x="588.25" y="893.8" width="11.9" height="25.05" fill="#fef1de"/>
<rect x="682.75" y="893.8" width="11.9" height="25.05" fill="#e10682"/>
<rect x="100" y="920.39" width="11.9" height="25.05" fill="#fef1de"/>
<rect x="115.75" y="920.39" width="11.9" height="25.05" fill="#fef1de"/>
<rect x="131.5" y="920.39" width="11.9" height="25.05" fill="#fef1de"/>
<rect x="147.25" y="920.39" width="11.9" height="25.05" fill="#fef1de"/>
<rect x="163" y="920.39" width="11.9" height="25.05" fill="#fef1de"/>
<rect x="178.75" y="920.39" width="11.9" height="25.05" fill="#fef1de"/>
<rect x="194.5" y="920.39" width="11.9" height="25.05" fill="#fef1de"/>
<rect x="210.25" y="920.39" width="11.9" height="25.05" fill="#fef1de"/>
<rect x="226" y="920.39" width="11.9" height="25.05" fill="#fef1de"/>
<rect x="241.75" y="920.39" width="11.9" height="25.05" fill="#fef1de"/>
<rect x="257.5" y="920.39" width="11.9" height="25.05" fill="#fef1de"/>
<rect x="273.25" y="920.39" width="11.9" height="25.05" fill="#fef1de"/>
<rect x="289" y="920.39" width="11.9" height="25.05" fill="#fef1de"/>
<rect x="304.75" y="920.39" width="11.9" height="25.05" fill="#fef1de"/>
<rect x="320.5" y="920.39" width="11.9" height="25.05" fill="#fef1de"/>
<rect x="336.25" y="920.39" width="11.9" height="25.05" fill="#fef1de"/>
<rect x="352" y="920.39" width="11.9" height="25.05" fill="#fef1de"/>
<rect x="367.75" y="920.39" width="11.9" height="25.05" fill="#fef1de"/>
<rect x="383.5" y="920.39" width="11.9" height="25.05" fill="#fef1de"/>
<rect x="399.25" y="920.39" width="11.9" height="25.05" fill="#fef1de"/>
<rect x="415" y="920.39" width="11.9" height="25.05" fill="#fef1de"/>
<rect x="430.75" y="920.39" width="11.9" height="25.05" fill="#fef1de"/>
<rect x="446.5" y="920.39" width="11.9" height="25.05" fill="#fef1de"/>
<rect x="462.25" y="920.39" width="11.9" height="25.05" fill="#fef1de"/>
<rect x="478" y="920.39" width="11.9" height="25.05" fill="#fef1de"/>
<rect x="493.75" y="920.39" width="11.9" height="25.05" fill="#fef1de"/>
<rect x="509.5" y="920.39" width="11.9" height="25.05" fill="#fef1de"/>
<rect x="525.25" y="920.39" width="11.9" height="25.05" fill="#fef1de"/>
<rect x="541" y="920.39" width="11.9" height="25.05" fill="#fef1de"/>
<rect x="556.75" y="920.39" width="11.9" height="25.05" fill="#fef1de"/>
<rect x="572.5" y="920.39" width="11.9" height="25.05" fill="#fef1de"/>
<rect x="588.25" y="920.39" width="11.9" height="25.05" fill="#fef1de"/>
<rect x="604" y="920.39" width="11.9" height="25.05" fill="#e10682"/>
<rect x="793" y="920.39" width="11.9" height="25.05" fill="#e10682"/>
<rect x="100" y="946.98" width="11.9" height="25.05" fill="#fef1de"/>
<rect x="115.75" y="946.98" width="11.9" height="25.05" fill="#fef1de"/>
<rect x="131.5" y="946.98" width="11.9" height="25.05" fill="#fef1de"/>
<rect x="147.25" y="946.98" width="11.9" height="25.05" fill="#fef1de"/>
<rect x="163" y="946.98" width="11.9" height="25.05" fill="#fef1de"/>
<rect x="178.75" y="946.98" width="11.9" height="25.05" fill="#fef1de"/>
<rect x="194.5" y="946.98" width="11.9" height="25.05" fill="#fef1de"/>
<rect x="210.25" y="946.98" width="11.9" height="25.05" fill="#fef1de"/>
<rect x="226" y="946.98" width="11.9" height="25.05" fill="#fef1de"/>
<rect x="241.75" y="946.98" width="11.9" height="25.05" fill="#fef1de"/>
<rect x="257.5" y="946.98" width="11.9" height="25.05" fill="#fef1de"/>
<rect x="273.25" y="946.98" width="11.9" height="25.05" fill="#fef1de"/>
<rect x="289" y="946.98" width="11.9" height="25.05" fill="#fef1de"/>
<rect x="304.75" y="946.98" width="11.9" height="25.05" fill="#fef1de"/>
<rect x="320.5" y="946.98" width="11.9" height="25.05" fill="#fef1de"/>
<rect x="336.25" y="946.98" width="11.9" height="25.05" fill="#fef1de"/>
<rect x="352" y="946.98" width="11.9" height="25.05" fill="#fef1de"/>
<rect x="367.75" y="946.98" width="11.9" height="25.05" fill="#fef1de"/>
<rect x="383.5" y="946.98" width="11.9" height="25.05" fill="#7dc6e6"/>
<rect x="399.25" y="946.98" width="11.9" height="25.05" fill="#fef1de"/>
<rect x="415" y="946.98" width="11.9" height="25.05" fill="#fef1de"/>
<rect x="430.75" y="946.98" width="11.9" height="25.05" fill="#fef1de"/>
<rect x="446.5" y="946.98" width="11.9" height="25.05" fill="#fef1de"/>
<rect x="462.25" y="946.98" width="11.9" height="25.05" fill="#fef1de"/>
<rect x="478" y="946.98" width="11.9" height="25.05" fill="#fef1de"/>
<rect x="493.75" y="946.98" width="11.9" height="25.05" fill="#fef1de"/>
<rect x="509.5" y="946.98" width="11.9" height="25.05" fill="#fef1de"/>
<rect x="525.25" y="946.98" width="11.9" height="25.05" fill="#fef1de"/>
<rect x="541" y="946.98" width="11.9" height="25.05" fill="#fef1de"/>
<rect x="556.75" y="946.98" width="11.9" height="25.05" fill="#fef1de"/>
<rect x="572.5" y="946.98" width="11.9" height="25.05" fill="#fef1de"/>
<rect x="588.25" y="946.98" width="11.9" height="25.05" fill="#fef1de"/>
<rect x="730" y="946.98" width="11.9" height="25.05" fill="#a3cf0a"/>
<rect x="100" y="973.57" width="11.9" height="25.05" fill="#fef1de"/>
<rect x="115.75" y="973.57" width="11.9" height="25.05" fill="#fef1de"/>
<rect x="131.5" y="973.57" width="11.9" height="25.05" fill="#fef1de"/>
<rect x="147.25" y="973.57" width="11.9" height="25.05" fill="#fef1de"/>
<rect x="163" y="973.57" width="11.9" height="25.05" fill="#fef1de"/>
<rect x="178.75" y="973.57" width="11.9" height="25.05" fill="#fef1de"/>
<rect x="194.5" y="973.57" width="11.9" height="25.05" fill="#fef1de"/>
<rect x="210.25" y="973.57" width="11.9" height="25.05" fill="#fef1de"/>
<rect x="226" y="973.57" width="11.9" height="25.05" fill="#fef1de"/>
<rect x="241.75" y="973.57" width="11.9" height="25.05" fill="#fef1de"/>
<rect x="257.5" y="973.57" width="11.9" height="25.05" fill="#fef1de"/>
<rect x="273.25" y="973.57" width="11.9" height="25.05" fill="#fef1de"/>
<rect x="289" y="973.57" width="11.9" height="25.05" fill="#fef1de"/>
<rect x="304.75" y="973.57" width="11.9" height="25.05" fill="#fef1de"/>
<rect x="320.5" y="973.57" width="11.9" height="25.05" fill="#fef1de"/>
<rect x="336.25" y="973.57" width="11.9" height="25.05" fill="#fef1de"/>
<rect x="352" y="973.57" width="11.9" height="25.05" fill="#fef1de"/>
<rect x="367.75" y="973.57" width="11.9" height="25.05" fill="#fef1de"/>
<rect x="383.5" y="973.57" width="11.9" height="25.05" fill="#fef1de"/>
<rect x="399.25" y="973.57" width="11.9" height="25.05" fill="#fef1de"/>
<rect x="415" y="973.57" width="11.9" height="25.05" fill="#9a1aa8"/>
<rect x="430.75" y="973.57" width="11.9" height="25.05" fill="#fef1de"/>
<rect x="446.5" y="973.57" width="11.9" height="25.05" fill="#fef1de"/>
<rect x="462.25" y="973.57" width="11.9" height="25.05" fill="#fef1de"/>
<rect x="478" y="973.57" width="11.9" height="25.05" fill="#fef1de"/>
<rect x="493.75" y="973.57" width="11.9" height="25.05" fill="#fef1de"/>
<rect x="509.5" y="973.57" width="11.9" height="25.05" fill="#fef1de"/>
<rect x="525.25" y="973.57" width="11.9" height="25.05" fill="#fef1de"/>
<rect x="541" y="973.57" width="11.9" height="25.05" fill="#fef1de"/>
<rect x="556.75" y="973.57" width="11.9" height="25.05" fill="#9a1aa8"/>
<rect x="572.5" y="973.57" width="11.9" height="25.05" fill="#fef1de"/>
<rect x="588.25" y="973.57" width="11.9" height="25.05" fill="#fef1de"/>
<rect x="100" y="1000.16" width="11.9" height="25.05" fill="#fef1de"/>
<rect x="115.75" y="1000.16" width="11.9" height="25.05" fill="#fef1de"/>
<rect x="131.5" y="1000.16" width="11.9" height="25.05" fill="#fef1de"/>
<rect x="147.25" y="1000.16" width="11.9" height="25.05" fill="#fef1de"/>
<rect x="163" y="1000.16" width="11.9" height="25.05" fill="#fef1de"/>
<rect x="178.75" y="1000.16" width="11.9" height="25.05" fill="#fef1de"/>
<rect x="194.5" y="1000.16" width="11.9" height="25.05" fill="#fef1de"/>
<rect x="210.25" y="1000.16" width="11.9" height="25.05" fill="#fef1de"/>
<rect x="226" y="1000.16" width="11.9" height="25.05" fill="#fef1de"/>
<rect x="241.75" y="1000.16" width="11.9" height="25.05" fill="#a3cf0a"/>
<rect x="257.5" y="1000.16" width="11.9" height="25.05" fill="#fef1de"/>
<rect x="273.25" y="1000.16" width="11.9" height="25.05" fill="#fef1de"/>
<rect x="289" y="1000.16" width="11.9" height="25.05" fill="#fef1de"/>
<rect x="304.75" y="1000.16" width="11.9" height="25.05" fill="#fef1de"/>
<rect x="320.5" y="1000.16" width="11.9" height="25.05" fill="#fef1de"/>
<rect x="336.25" y="1000.16" width="11.9" height="25.05" fill="#fef1de"/>
<rect x="352" y="1000.16" width="11.9" height="25.05" fill="#fef1de"/>
<rect x="367.75" y="1000.16" width="11.9" height="25.05" fill="#fef1de"/>
<rect x="383.5" y="1000.16" width="11.9" height="25.05" fill="#fef1de"/>
<rect x="399.25" y="1000.16" width="11.9" height="25.05" fill="#fef1de"/>
<rect x="415" y="1000.16" width="11.9" height="25.05" fill="#fef1de"/>
<rect x="430.75" y="1000.16" width="11.9" height="25.05" fill="#fef1de"/>
<rect x="446.5" y="1000.16" width="11.9" height="25.05" fill="#fef1de"/>
<rect x="462.25" y="1000.16" width="11.9" height="25.05" fill="#fcb03c"/>
<rect x="478" y="1000.16" width="11.9" height="25.05" fill="#fef1de"/>
<rect x="493.75" y="1000.16" width="11.9" height="25.05" fill="#fef1de"/>
<rect x="509.5" y="1000.16" width="11.9" height="25.05" fill="#fef1de"/>
<rect x="525.25" y="1000.16" width="11.9" height="25.05" fill="#fef1de"/>
<rect x="541" y="1000.16" width="11.9" height="25.05" fill="#fef1de"/>
<rect x="556.75" y="1000.16" width="11.9" height="25.05" fill="#fef1de"/>
<rect x="572.5" y="1000.16" width="11.9" height="25.05" fill="#fef1de"/>
<rect x="588.25" y="1000.16" width="11.9" height="25.05" fill="#fef1de"/>
<rect x="100" y="1026.75" width="11.9" height="25.05" fill="#fef1de"/>
<rect x="115.75" y="1026.75" width="11.9" height="25.05" fill="#fef1de"/>
<rect x="131.5" y="1026.75" width="11.9" height="25.05" fill="#fef1de"/>
<rect x="147.25" y="1026.75" width="11.9" height="25.05" fill="#fef1de"/>
<rect x="163" y="1026.75" width="11.9" height="25.05" fill="#fef1de"/>
<rect x="178.75" y="1026.75" width="11.9" height="25.05" fill="#fef1de"/>
<rect x="194.5" y="1026.75" width="11.9" height="25.05" fill="#fef1de"/>
<rect x="210.25" y="1026.75" width="11.9" height="25.05" fill="#fef1de"/>
<rect x="226" y="1026.75" width="11.9" height="25.05" fill="#fef1de"/>
<rect x="241.75" y="1026.75" width="11.9" height="25.05" fill="#fef1de"/>
<rect x="257.5" y="1026.75" width="11.9" height="25.05" fill="#fef1de"/>
<rect x="273.25" y="1026.75" width="11.9" height="25.05" fill="#fef1de"/>
<rect x="289" y="1026.75" width="11.9" height="25.05" fill="#fef1de"/>
<rect x="304.75" y="1026.75" width="11.9" height="25.05" fill="#fef1de"/>
<rect x="320.5" y="1026.75" width="11.9" height="25.05" fill="#fef1de"/>
<rect x="336.25" y="1026.75" width="11.9" height="25.05" fill="#fef1de"/>
<rect x="352" y="1026.75" width="11.9" height="25.05" fill="#fef1de"/>
<rect x="367.75" y="1026.75" width="11.9" height="25.05" fill="#fef1de"/>
<rect x="383.5" y="1026.75" width="11.9" height="25.05" fill="#fef1de"/>
<rect x="399.25" y="1026.75" width="11.9" height="25.05" fill="#fef1de"/>
<rect x="415" y="1026.75" width="11.9" height="25.05" fill="#fef1de"/>
<rect x="430.75" y="1026.75" width="11.9" height="25.05" fill="#fef1de"/>
<rect x="446.5" y="1026.75" width="11.9" height="25.05" fill="#fef1de"/>
<rect x="462.25" y="1026.75" width="11.9" height="25.05" fill="#fef1de"/>
<rect x="478" y="1026.75" width="11.9" height="25.05" fill="#fef1de"/>
<rect x="493.75" y="1026.75" width="11.9" height="25.05" fill="#fef1de"/>
<rect x="509.5" y="1026.75" width="11.9" height="25.05" fill="#fef1de"/>
<rect x="525.25" y="1026.75" width="11.9" height="25.05" fill="#fef1de"/>
<rect x="541" y="1026.75" width="11.9" height="25.05" fill="#fef1de"/>
<rect x="556.75" y="1026.75" width="11.9" height="25.05" fill="#fef1de"/>
<rect x="572.5" y="1026.75" width="11.9" height="25.05" fill="#fef1de"/>
<rect x="588.25" y="1026.75" width="11.9" height="25.05" fill="#fef1de"/>
<rect x="619.75" y="1026.75" width="11.9" height="25.05" fill="#e10682"/>
<rect x="793" y="1026.75" width="11.9" height="25.05" fill="#e10682"/>
<rect x="100" y="1053.34" width="11.9" height="25.05" fill="#fef1de"/>
<rect x="115.75" y="1053.34" width="11.9" height="25.05" fill="#fef1de"/>
<rect x="131.5" y="1053.34" width="11.9" height="25.05" fill="#fef1de"/>
<rect x="147.25" y="1053.34" width="11.9" height="25.05" fill="#fef1de"/>
<rect x="163" y="1053.34" width="11.9" height="25.05" fill="#fef1de"/>
<rect x="178.75" y="1053.34" width="11.9" height="25.05" fill="#fef1de"/>
<rect x="194.5" y="1053.34" width="11.9" height="25.05" fill="#fef1de"/>
<rect x="210.25" y="1053.34" width="11.9" height="25.05" fill="#fef1de"/>
<rect x="226" y="1053.34" width="11.9" height="25.05" fill="#fef1de"/>
<rect x="241.75" y="1053.34" width="11.9" height="25.05" fill="#fef1de"/>
<rect x="257.5" y="1053.34" width="11.9" height="25.05" fill="#fef1de"/>
<rect x="273.25" y="1053.34" width="11.9" height="25.05" fill="#fef1de"/>
<rect x="289" y="1053.34" width="11.9" height="25.05" fill="#fef1de"/>
<rect x="304.75" y="1053.34" width="11.9" height="25.05" fill="#fef1de"/>
<rect x="320.5" y="1053.34" width="11.9" height="25.05" fill="#fef1de"/>
<rect x="336.25" y="1053.34" width="11.9" height="25.05" fill="#fef1de"/>
<rect x="352" y="1053.34" width="11.9" height="25.05" fill="#fef1de"/>
<rect x="367.75" y="1053.34" width="11.9" height="25.05" fill="#fef1de"/>
<rect x="383.5" y="1053.34" width="11.9" height="25.05" fill="#fef1de"/>
<rect x="399.25" y="1053.34" width="11.9" height="25.05" fill="#fef1de"/>
<rect x="415" y="1053.34" width="11.9" height="25.05" fill="#9a1aa8"/>
<rect x="430.75" y="1053.34" width="11.9" height="25.05" fill="#fef1de"/>
<rect x="446.5" y="1053.34" width="11.9" height="25.05" fill="#fef1de"/>
<rect x="462.25" y="1053.34" width="11.9" height="25.05" fill="#fef1de"/>
<rect x="478" y="1053.34" width="11.9" height="25.05" fill="#fef1de"/>
<rect x="493.75" y="1053.34" width="11.9" height="25.05" fill="#fef1de"/>
<rect x="509.5" y="1053.34" width="11.9" height="25.05" fill="#fef1de"/>
<rect x="525.25" y="1053.34" width="11.9" height="25.05" fill="#fef1de"/>
<rect x="541" y="1053.34" width="11.9" height="25.05" fill="#fef1de"/>
<rect x="556.75" y="1053.34" width="11.9" height="25.05" fill="#fef1de"/>
<rect x="572.5" y="1053.34" width="11.9" height="25.05" fill="#fef1de"/>
<rect x="588.25" y="1053.34" width="11.9" height="25.05" fill="#fef1de"/>
<rect x="871.75" y="1053.34" width="11.9" height="25.05" fill="#a3cf0a"/>
<rect x="100" y="1079.93" width="11.9" height="25.05" fill="#fef1de"/>
<rect x="115.75" y="1079.93" width="11.9" height="25.05" fill="#fef1de"/>
<rect x="131.5" y="1079.93" width="11.9" height="25.05" fill="#fef1de"/>
<rect x="147.25" y="1079.93" width="11.9" height="25.05" fill="#fef1de"/>
<rect x="163" y="1079.93" width="11.9" height="25.05" fill="#fef1de"/>
<rect x="178.75" y="1079.93" width="11.9" height="25.05" fill="#fef1de"/>
<rect x="194.5" y="1079.93" width="11.9" height="25.05" fill="#fef1de"/>
<rect x="210.25" y="1079.93" width="11.9" height="25.05" fill="#fef1de"/>
<rect x="226" y="1079.93" width="11.9" height="25.05" fill="#fef1de"/>
<rect x="241.75" y="1079.93" width="11.9" height="25.05" fill="#fef1de"/>
<rect x="257.5" y="1079.93" width="11.9" height="25.05" fill="#fef1de"/>
<rect x="273.25" y="1079.93" width="11.9" height="25.05" fill="#fef1de"/>
<rect x="289" y="1079.93" width="11.9" height="25.05" fill="#fef1de"/>
<rect x="304.75" y="1079.93" width="11.9" height="25.05" fill="#fef1de"/>
<rect x="320.5" y="1079.93" width="11.9" height="25.05" fill="#fef1de"/>
<rect x="336.25" y="1079.93" width="11.9" height="25.05" fill="#fef1de"/>
<rect x="352" y="1079.93" width="11.9" height="25.05" fill="#fef1de"/>
<rect x="367.75" y="1079.93" width="11.9" height="25.05" fill="#fef1de"/>
<rect x="383.5" y="1079.93" width="11.9" height="25.05" fill="#fef1de"/>
<rect x="399.25" y="1079.93" width="11.9" height="25.05" fill="#fef1de"/>
<rect x="415" y="1079.93" width="11.9" height="25.05" fill="#fef1de"/>
<rect x="430.75" y="1079.93" width="11.9" height="25.05" fill="#fef1de"/>
<rect x="446.5" y="1079.93" width="11.9" height="25.05" fill="#fef1de"/>
<rect x="462.25" y="1079.93" width="11.9" height="25.05" fill="#fef1de"/>
<rect x="478" y="1079.93" width="11.9" height="25.05" fill="#fef1de"/>
<rect x="493.75" y="1079.93" width="11.9" height="25.05" fill="#fef1de"/>
<rect x="509.5" y="1079.93" width="11.9" height="25.05" fill="#fef1de"/>
<rect x="525.25" y="1079.93" width="11.9" height="25.05" fill="#fef1de"/>
<rect x="541" y="1079.93" width="11.9" height="25.05" fill="#fef1de"/>
<rect x="556.75" y="1079.93" width="11.9" height="25.05" fill="#fef1de"/>
<rect x="572.5" y="1079.93" width="11.9" height="25.05" fill="#fef1de"/>
<rect x="588.25" y="1079.93" width="11.9" height="25.05" fill="#fef1de"/>
<rect x="604" y="1079.93" width="11.9" height="25.05" fill="#9a1aa8"/>
<rect x="682.75" y="1079.93" width="11.9" height="25.05" fill="#7dc6e6"/>
</g>
<rect x="100.4" y="93" width="940.4" height="1015.1" fill="none" stroke="#000" stroke-width="2.2"/>
<g class="tk">
<line x1="92.6" x2="100" y1="108.62" y2="108.62"/>
<line x1="92.6" x2="100" y1="135.22" y2="135.22"/>
<line x1="92.6" x2="100" y1="161.81" y2="161.81"/>
<line x1="92.6" x2="100" y1="188.4" y2="188.4"/>
<line x1="92.6" x2="100" y1="214.98" y2="214.98"/>
<line x1="92.6" x2="100" y1="241.57" y2="241.57"/>
<line x1="92.6" x2="100" y1="268.16" y2="268.16"/>
<line x1="92.6" x2="100" y1="294.75" y2="294.75"/>
<line x1="92.6" x2="100" y1="321.34" y2="321.34"/>
<line x1="92.6" x2="100" y1="347.93" y2="347.93"/>
<line x1="92.6" x2="100" y1="374.52" y2="374.52"/>
<line x1="92.6" x2="100" y1="401.12" y2="401.12"/>
<line x1="92.6" x2="100" y1="427.7" y2="427.7"/>
<line x1="92.6" x2="100" y1="454.29" y2="454.29"/>
<line x1="92.6" x2="100" y1="480.88" y2="480.88"/>
<line x1="92.6" x2="100" y1="507.48" y2="507.48"/>
<line x1="92.6" x2="100" y1="534.06" y2="534.06"/>
<line x1="92.6" x2="100" y1="560.65" y2="560.65"/>
<line x1="92.6" x2="100" y1="587.25" y2="587.25"/>
<line x1="92.6" x2="100" y1="613.83" y2="613.83"/>
<line x1="92.6" x2="100" y1="640.42" y2="640.42"/>
<line x1="92.6" x2="100" y1="667.01" y2="667.01"/>
<line x1="92.6" x2="100" y1="693.61" y2="693.61"/>
<line x1="92.6" x2="100" y1="720.2" y2="720.2"/>
<line x1="92.6" x2="100" y1="746.78" y2="746.78"/>
<line x1="92.6" x2="100" y1="773.38" y2="773.38"/>
<line x1="92.6" x2="100" y1="799.97" y2="799.97"/>
<line x1="92.6" x2="100" y1="826.55" y2="826.55"/>
<line x1="92.6" x2="100" y1="853.14" y2="853.14"/>
<line x1="92.6" x2="100" y1="879.74" y2="879.74"/>
<line x1="92.6" x2="100" y1="906.33" y2="906.33"/>
<line x1="92.6" x2="100" y1="932.91" y2="932.91"/>
<line x1="92.6" x2="100" y1="959.5" y2="959.5"/>
<line x1="92.6" x2="100" y1="986.1" y2="986.1"/>
<line x1="92.6" x2="100" y1="1012.68" y2="1012.68"/>
<line x1="92.6" x2="100" y1="1039.28" y2="1039.28"/>
<line x1="92.6" x2="100" y1="1065.87" y2="1065.87"/>
<line x1="92.6" x2="100" y1="1092.46" y2="1092.46"/>
</g>
<g fill="#3f3f3f" stroke="#fff" stroke-width="0.4">
<rect x="1057.2" y="96.4" width="61.05" height="24.45"/>
<rect x="1057.2" y="122.99" width="55.5" height="24.45"/>
<rect x="1057.2" y="149.58" width="51.8" height="24.45"/>
<rect x="1057.2" y="176.17" width="35.15" height="24.45"/>
<rect x="1057.2" y="202.76" width="16.65" height="24.45"/>
<rect x="1057.2" y="229.35" width="12.95" height="24.45"/>
<rect x="1057.2" y="255.94" width="12.95" height="24.45"/>
<rect x="1057.2" y="282.53" width="9.25" height="24.45"/>
<rect x="1057.2" y="309.12" width="9.25" height="24.45"/>
<rect x="1057.2" y="335.71" width="7.4" height="24.45"/>
<rect x="1057.2" y="362.3" width="7.4" height="24.45"/>
<rect x="1057.2" y="388.89" width="7.4" height="24.45"/>
<rect x="1057.2" y="415.48" width="7.4" height="24.45"/>
<rect x="1057.2" y="442.07" width="7.4" height="24.45"/>
<rect x="1057.2" y="468.66" width="5.55" height="24.45"/>
<rect x="1057.2" y="495.25" width="5.55" height="24.45"/>
<rect x="1057.2" y="521.84" width="5.55" height="24.45"/>
<rect x="1057.2" y="548.43" width="5.55" height="24.45"/>
<rect x="1057.2" y="575.02" width="5.55" height="24.45"/>
<rect x="1057.2" y="601.61" width="5.55" height="24.45"/>
<rect x="1057.2" y="628.2" width="5.55" height="24.45"/>
<rect x="1057.2" y="654.79" width="5.55" height="24.45"/>
<rect x="1057.2" y="681.38" width="5.55" height="24.45"/>
<rect x="1057.2" y="707.97" width="5.55" height="24.45"/>
<rect x="1057.2" y="734.56" width="5.55" height="24.45"/>
<rect x="1057.2" y="761.15" width="3.7" height="24.45"/>
<rect x="1057.2" y="787.74" width="3.7" height="24.45"/>
<rect x="1057.2" y="814.33" width="3.7" height="24.45"/>
<rect x="1057.2" y="840.92" width="3.7" height="24.45"/>
<rect x="1057.2" y="867.51" width="3.7" height="24.45"/>
<rect x="1057.2" y="894.1" width="3.7" height="24.45"/>
<rect x="1057.2" y="920.69" width="3.7" height="24.45"/>
<rect x="1057.2" y="947.28" width="3.7" height="24.45"/>
<rect x="1057.2" y="973.87" width="3.7" height="24.45"/>
<rect x="1057.2" y="1000.46" width="3.7" height="24.45"/>
<rect x="1057.2" y="1027.05" width="3.7" height="24.45"/>
<rect x="1057.2" y="1053.64" width="3.7" height="24.45"/>
<rect x="1057.2" y="1080.23" width="3.7" height="24.45"/>
</g>
<rect x="1055.8" y="93" width="112.6" height="1015.1" fill="none" stroke="#000" stroke-width="2.2"/>
<g stroke="#000" stroke-width="2">
<line x1="1056.9" x2="1056.9" y1="1108" y2="1115.5"/>
<line x1="1111.9" x2="1111.9" y1="1108" y2="1115.5"/>
<line x1="1167.1" x2="1167.1" y1="1108" y2="1115.5"/>
</g>
<rect class="lb" x="323.7" y="0.3" width="21.8" height="21.8" fill="#7dc6e6"/>
<rect class="lb" x="323.7" y="26.4" width="21.8" height="21.8" fill="#a3cf0a"/>
<rect class="lb" x="323.7" y="52.5" width="21.8" height="21.8" fill="#009a33"/>
<rect class="lb" x="504.7" y="0.3" width="21.8" height="21.8" fill="#e10682"/>
<rect class="lb" x="504.7" y="26.4" width="21.8" height="21.8" fill="#3b2895"/>
<rect class="lb" x="504.7" y="52.5" width="21.8" height="21.8" fill="#9a1aa8"/>
<rect class="lb" x="672.5" y="0.3" width="21.8" height="21.8" fill="#fcb03c"/>
<rect class="lb" x="672.5" y="26.4" width="21.8" height="21.8" fill="#f0d6f4"/>
<rect class="lb" x="672.5" y="52.5" width="21.8" height="21.8" fill="#131313"/>
<rect class="lb" x="856.8" y="0.3" width="22.4" height="22.4" fill="#fef1de"/>
<rect class="lb" x="856.8" y="26.4" width="22.4" height="22.4" fill="#ffffff"/>
<text class="gl" transform="translate(31.25 114.92) scale(0.8776 1)">BRCA1</text>
<text class="gl" transform="translate(31.25 141.52) scale(0.8627 1)">BRCA2</text>
<text class="gl" transform="translate(43.53 168.11) scale(0.9000 1)">TP53</text>
<text class="gl" transform="translate(30.23 194.7) scale(0.9268 1)">RAD21</text>
<text class="gl" transform="translate(48.19 221.28) scale(0.8600 1)">MYC</text>
<text class="gl" transform="translate(41.51 247.88) scale(0.8574 1)">PTEN</text>
<text class="gl" transform="translate(25.43 274.46) scale(0.9016 1)">PIK3CA</text>
<text class="gl" transform="translate(32.74 301.06) scale(0.7935 1)">RPTOR</text>
<text class="gl" transform="translate(18.25 327.64) scale(0.8875 1)">CDKN2A</text>
<text class="gl" transform="translate(52.43 354.23) scale(0.9030 1)">RB1</text>
<text class="gl" transform="translate(17.81 380.82) scale(0.8730 1)">NOTCH3</text>
<text class="gl" transform="translate(30.41 407.42) scale(0.9865 1)">MDM2</text>
<text class="gl" transform="translate(33.63 434) scale(0.8254 1)">ERBB2</text>
<text class="gl" transform="translate(18.12 460.59) scale(0.8819 1)">CDKN2B</text>
<text class="gl" transform="translate(21.96 487.19) scale(0.9242 1)">ZNF703</text>
<text class="gl" transform="translate(16.81 513.77) scale(0.8865 1)">PIK3C2B</text>
<text class="gl" transform="translate(-0.31 540.36) scale(0.8745 1)">PDCD1LG2</text>
<text class="gl" transform="translate(39.43 566.95) scale(0.8917 1)">NSD3</text>
<text class="gl" transform="translate(51.41 593.54) scale(0.9625 1)">NF1</text>
<text class="gl" transform="translate(30.41 620.13) scale(0.9865 1)">MDM4</text>
<text class="gl" transform="translate(46 646.72) scale(0.8488 1)">JAK2</text>
<text class="gl" transform="translate(37.14 673.31) scale(0.8558 1)">IKBKE</text>
<text class="gl" transform="translate(44.82 699.9) scale(0.8174 1)">ESR1</text>
<text class="gl" transform="translate(31.23 726.5) scale(0.9255 1)">CD274</text>
<text class="gl" transform="translate(24.47 753.08) scale(0.8386 1)">ARFRP1</text>
<text class="gl" transform="translate(21.96 779.67) scale(0.9242 1)">ZNF217</text>
<text class="gl" transform="translate(27.62 806.26) scale(0.9117 1)">PIK3R1</text>
<text class="gl" transform="translate(40 832.85) scale(0.8673 1)">MTAP</text>
<text class="gl" transform="translate(38.64 859.44) scale(0.9391 1)">MCL1</text>
<text class="gl" transform="translate(38.63 886.03) scale(0.8569 1)">GNAS</text>
<text class="gl" transform="translate(33.24 912.62) scale(0.8891 1)">FGF14</text>
<text class="gl" transform="translate(38.71 939.21) scale(0.8471 1)">EMSY</text>
<text class="gl" transform="translate(31.7 965.8) scale(0.8508 1)">CHEK2</text>
<text class="gl" transform="translate(37.66 992.39) scale(0.9500 1)">CDH1</text>
<text class="gl" transform="translate(40.62 1018.98) scale(0.8872 1)">BRD4</text>
<text class="gl" transform="translate(30.3 1045.58) scale(0.8516 1)">AURKA</text>
<text class="gl" transform="translate(35.05 1072.16) scale(0.8643 1)">ASXL1</text>
<text class="gl" transform="translate(52.27 1098.76) scale(0.8105 1)">APC</text>
<text class="lt" transform="translate(357.52 16.6) scale(0.9144 1)">SV–LOH</text>
<text class="lt" transform="translate(357.51 42.6) scale(0.9771 1)">SV–not under LOH</text>
<text class="lt" transform="translate(357.52 68.6) scale(0.9353 1)">SV–LOH NA</text>
<text class="lt" transform="translate(538.49 16.6) scale(1.0287 1)">CN–amplification</text>
<text class="lt" transform="translate(538.5 42.6) scale(1.0082 1)">CN–deletion</text>
<text class="lt" transform="translate(538.02 68.6) scale(0.9821 1)">RE–truncation</text>
<text class="lt" transform="translate(705.85 16.6) scale(0.9584 1)">RE–fusion</text>
<text class="lt" transform="translate(705.8 42.6) scale(0.9982 1)">RE–duplication</text>
<text class="lt" transform="translate(706.57 68.6) scale(1.0404 1)">Multiple alterations</text>
<text class="lt" transform="translate(890 16.6) scale(1.0047 1)">Cohort 1</text>
<text class="lt" transform="translate(889.97 42.6) scale(1.0266 1)">Cohort 2</text>
<text class="vt" transform="translate(187.6 44.4) scale(0.9870 1)">Variant type</text>
<text class="ax" transform="translate(1043.46 1138.2) scale(0.7933 1)">0 %</text>
<text class="ax" transform="translate(1093.9 1138.2) scale(0.8275 1)">50 %</text>
<text class="ax" transform="translate(1143.14 1138.2) scale(0.8640 1)">100 %</text>
<text class="af" transform="translate(1183.6 503.2) rotate(90)">Alteration frequency</text>

</svg>
</body></html>
